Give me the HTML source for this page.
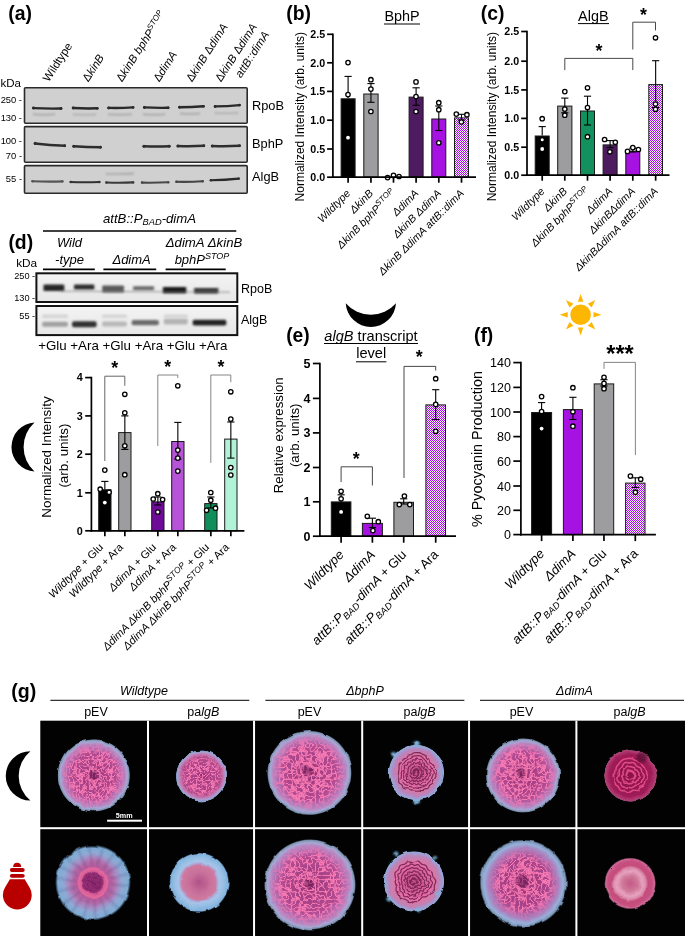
<!DOCTYPE html>
<html><head><meta charset="utf-8"><style>
html,body{margin:0;padding:0;background:#fff;}
body{width:685px;height:936px;overflow:hidden;}
svg{display:block;font-family:"Liberation Sans", Arial, sans-serif;}
</style></head><body>
<svg width="685" height="936" viewBox="0 0 685 936">
<defs>
<pattern id="chk" width="2" height="2" patternUnits="userSpaceOnUse"><rect width="2" height="2" fill="#fff4ff"/><rect width="1" height="1" fill="#a90ce8"/><rect x="1" y="1" width="1" height="1" fill="#a90ce8"/></pattern>
<filter id="blur1" x="-20%" y="-200%" width="140%" height="500%"><feGaussianBlur stdDeviation="0.8"/></filter>
<filter id="blur2" x="-20%" y="-200%" width="140%" height="500%"><feGaussianBlur stdDeviation="1.2"/></filter>
</defs><text x="8.20" y="20.00" font-size="19.4" font-weight="bold">(a)</text><text x="0.50" y="87.00" font-size="11.5">kDa</text><rect x="24.50" y="87.80" width="222.70" height="35.50" fill="#d0d0d0" stroke="#2a2a2a" stroke-width="1.6" rx="1"/><rect x="24.50" y="126.60" width="222.70" height="35.70" fill="#d0d0d0" stroke="#2a2a2a" stroke-width="1.6" rx="1"/><rect x="24.50" y="165.60" width="222.70" height="27.70" fill="#d0d0d0" stroke="#2a2a2a" stroke-width="1.6" rx="1"/><text x="22.00" y="102.70" font-size="9.4" text-anchor="end">250 -</text><text x="22.00" y="121.10" font-size="9.4" text-anchor="end">130 -</text><text x="22.00" y="143.60" font-size="9.4" text-anchor="end">100 -</text><text x="22.00" y="159.30" font-size="9.4" text-anchor="end">70 -</text><text x="22.00" y="181.80" font-size="9.4" text-anchor="end">55 -</text><text x="252.00" y="110.30" font-size="12.8">RpoB</text><text x="252.00" y="148.00" font-size="12.8">BphP</text><text x="252.00" y="181.30" font-size="12.8">AlgB</text><defs><filter id="blur05" x="-10%" y="-200%" width="120%" height="500%"><feGaussianBlur stdDeviation="0.65"/></filter></defs><g opacity="1" filter="url(#blur05)"><path d="M33.4,108.1 Q47.2,108.8 61.1,108.5" fill="none" stroke="#2a2a2a" stroke-width="2.4" stroke-linecap="round"/><circle cx="33.5" cy="108.1" r="1.49" fill="#2a2a2a"/><circle cx="61.0" cy="108.5" r="1.39" fill="#2a2a2a"/></g><g opacity="1" filter="url(#blur05)"><path d="M73.1,108.0 Q85.2,108.7 97.3,108.3" fill="none" stroke="#2a2a2a" stroke-width="2.4" stroke-linecap="round"/><circle cx="73.2" cy="108.0" r="1.49" fill="#2a2a2a"/><circle cx="97.2" cy="108.3" r="1.39" fill="#2a2a2a"/></g><g opacity="1" filter="url(#blur05)"><path d="M108.6,107.9 Q120.9,108.2 133.1,107.4" fill="none" stroke="#2a2a2a" stroke-width="2.4" stroke-linecap="round"/><circle cx="108.7" cy="107.9" r="1.49" fill="#2a2a2a"/><circle cx="133.0" cy="107.4" r="1.39" fill="#2a2a2a"/></g><g opacity="1" filter="url(#blur05)"><path d="M144.3,107.4 Q156.2,108.1 168.2,107.8" fill="none" stroke="#2a2a2a" stroke-width="2.4" stroke-linecap="round"/><circle cx="144.4" cy="107.4" r="1.49" fill="#2a2a2a"/><circle cx="168.1" cy="107.8" r="1.39" fill="#2a2a2a"/></g><g opacity="1" filter="url(#blur05)"><path d="M179.5,107.3 Q191.5,107.3 203.5,106.3" fill="none" stroke="#2a2a2a" stroke-width="2.4" stroke-linecap="round"/><circle cx="179.6" cy="107.3" r="1.49" fill="#2a2a2a"/><circle cx="203.4" cy="106.3" r="1.39" fill="#2a2a2a"/></g><g opacity="1" filter="url(#blur05)"><path d="M215.1,106.4 Q227.4,106.3 239.6,105.1" fill="none" stroke="#2a2a2a" stroke-width="2.4" stroke-linecap="round"/><circle cx="215.2" cy="106.4" r="1.49" fill="#2a2a2a"/><circle cx="239.5" cy="105.1" r="1.39" fill="#2a2a2a"/></g><g opacity="0.8" filter="url(#blur1)"><path d="M33.6,114.3 Q44.0,114.8 54.4,114.3" fill="none" stroke="#8c8c8c" stroke-width="1.2" stroke-linecap="round"/><circle cx="33.7" cy="114.3" r="0.74" fill="#8c8c8c"/><circle cx="54.3" cy="114.3" r="0.70" fill="#8c8c8c"/></g><g opacity="0.8" filter="url(#blur1)"><path d="M73.6,114.5 Q84.5,115.0 95.4,114.5" fill="none" stroke="#8c8c8c" stroke-width="1.2" stroke-linecap="round"/><circle cx="73.7" cy="114.5" r="0.74" fill="#8c8c8c"/><circle cx="95.3" cy="114.5" r="0.70" fill="#8c8c8c"/></g><g opacity="0.8" filter="url(#blur1)"><path d="M108.6,114.4 Q120.0,115.0 131.4,114.4" fill="none" stroke="#8c8c8c" stroke-width="1.2" stroke-linecap="round"/><circle cx="108.7" cy="114.4" r="0.74" fill="#8c8c8c"/><circle cx="131.3" cy="114.4" r="0.70" fill="#8c8c8c"/></g><g opacity="0.8" filter="url(#blur1)"><path d="M143.6,114.3 Q154.0,114.8 164.4,114.3" fill="none" stroke="#8c8c8c" stroke-width="1.2" stroke-linecap="round"/><circle cx="143.7" cy="114.3" r="0.74" fill="#8c8c8c"/><circle cx="164.3" cy="114.3" r="0.70" fill="#8c8c8c"/></g><g opacity="0.8" filter="url(#blur1)"><path d="M180.6,113.6 Q190.0,114.1 199.4,113.6" fill="none" stroke="#8c8c8c" stroke-width="1.2" stroke-linecap="round"/><circle cx="180.7" cy="113.6" r="0.74" fill="#8c8c8c"/><circle cx="199.3" cy="113.6" r="0.70" fill="#8c8c8c"/></g><g opacity="0.8" filter="url(#blur1)"><path d="M215.6,113.0 Q226.5,113.5 237.4,113.0" fill="none" stroke="#8c8c8c" stroke-width="1.2" stroke-linecap="round"/><circle cx="215.7" cy="113.0" r="0.74" fill="#8c8c8c"/><circle cx="237.3" cy="113.0" r="0.70" fill="#8c8c8c"/></g><g opacity="1" filter="url(#blur05)"><path d="M35.0,143.4 Q49.9,145.2 64.8,145.8" fill="none" stroke="#2e2e2e" stroke-width="2.5" stroke-linecap="round"/><circle cx="35.2" cy="143.4" r="1.55" fill="#2e2e2e"/><circle cx="64.6" cy="145.8" r="1.45" fill="#2e2e2e"/></g><g opacity="1" filter="url(#blur05)"><path d="M73.7,146.2 Q87.1,147.2 100.5,147.2" fill="none" stroke="#2e2e2e" stroke-width="2.5" stroke-linecap="round"/><circle cx="73.8" cy="146.2" r="1.55" fill="#2e2e2e"/><circle cx="100.4" cy="147.2" r="1.45" fill="#2e2e2e"/></g><g opacity="1" filter="url(#blur05)"><path d="M143.8,146.2 Q156.6,146.8 169.3,146.2" fill="none" stroke="#2e2e2e" stroke-width="2.5" stroke-linecap="round"/><circle cx="144.0" cy="146.2" r="1.55" fill="#2e2e2e"/><circle cx="169.2" cy="146.2" r="1.45" fill="#2e2e2e"/></g><g opacity="1" filter="url(#blur05)"><path d="M177.8,146.0 Q190.9,146.5 203.9,145.8" fill="none" stroke="#2e2e2e" stroke-width="2.5" stroke-linecap="round"/><circle cx="178.0" cy="146.0" r="1.55" fill="#2e2e2e"/><circle cx="203.8" cy="145.8" r="1.45" fill="#2e2e2e"/></g><g opacity="1" filter="url(#blur05)"><path d="M212.2,146.0 Q225.9,146.5 239.6,145.8" fill="none" stroke="#2e2e2e" stroke-width="2.5" stroke-linecap="round"/><circle cx="212.3" cy="146.0" r="1.55" fill="#2e2e2e"/><circle cx="239.4" cy="145.8" r="1.45" fill="#2e2e2e"/></g><g opacity="1" filter="url(#blur05)"><path d="M32.4,181.2 Q47.5,181.9 62.5,181.4" fill="none" stroke="#555" stroke-width="2.1" stroke-linecap="round"/><circle cx="32.6" cy="181.2" r="1.30" fill="#555"/><circle cx="62.3" cy="181.4" r="1.22" fill="#555"/></g><g opacity="1" filter="url(#blur05)"><path d="M70.6,182.0 Q85.0,182.6 99.5,182.0" fill="none" stroke="#333" stroke-width="2.1" stroke-linecap="round"/><circle cx="70.8" cy="182.0" r="1.30" fill="#333"/><circle cx="99.3" cy="182.0" r="1.22" fill="#333"/></g><g opacity="1" filter="url(#blur05)"><path d="M106.3,182.5 Q119.8,183.0 133.2,182.4" fill="none" stroke="#3a3a3a" stroke-width="2.1" stroke-linecap="round"/><circle cx="106.5" cy="182.5" r="1.30" fill="#3a3a3a"/><circle cx="133.1" cy="182.4" r="1.22" fill="#3a3a3a"/></g><g opacity="1" filter="url(#blur05)"><path d="M142.0,182.6 Q155.2,182.9 168.3,182.2" fill="none" stroke="#4a4a4a" stroke-width="2.1" stroke-linecap="round"/><circle cx="142.1" cy="182.6" r="1.30" fill="#4a4a4a"/><circle cx="168.2" cy="182.2" r="1.22" fill="#4a4a4a"/></g><g opacity="1" filter="url(#blur05)"><path d="M176.4,181.8 Q189.6,182.1 202.8,181.3" fill="none" stroke="#444" stroke-width="2.1" stroke-linecap="round"/><circle cx="176.5" cy="181.8" r="1.30" fill="#444"/><circle cx="202.6" cy="181.3" r="1.22" fill="#444"/></g><g opacity="1" filter="url(#blur05)"><path d="M210.8,180.3 Q224.8,180.0 238.8,178.6" fill="none" stroke="#2a2a2a" stroke-width="2.1" stroke-linecap="round"/><circle cx="210.9" cy="180.3" r="1.30" fill="#2a2a2a"/><circle cx="238.7" cy="178.6" r="1.22" fill="#2a2a2a"/></g><g opacity="0.8" filter="url(#blur1)"><path d="M106.8,173.8 Q120.0,174.2 133.2,173.6" fill="none" stroke="#9a9a9a" stroke-width="1.6" stroke-linecap="round"/><circle cx="106.9" cy="173.8" r="0.99" fill="#9a9a9a"/><circle cx="133.1" cy="173.6" r="0.93" fill="#9a9a9a"/></g><text x="48.80" y="82.50" font-size="11.4" transform="rotate(-57 48.80 82.50)">Wildtype</text><text x="88.30" y="82.50" font-size="11.4" transform="rotate(-57 88.30 82.50)">Δ<tspan font-style="italic">kinB</tspan></text><text x="121.90" y="82.50" font-size="11.4" transform="rotate(-57 121.90 82.50)">Δ<tspan font-style="italic">kinB bphP</tspan><tspan font-size="8" dy="-4" font-style="italic">STOP</tspan></text><text x="159.20" y="82.50" font-size="11.4" transform="rotate(-57 159.20 82.50)">Δ<tspan font-style="italic">dimA</tspan></text><text x="191.90" y="82.50" font-size="11.4" transform="rotate(-57 191.90 82.50)">Δ<tspan font-style="italic">kinB</tspan> Δ<tspan font-style="italic">dimA</tspan></text><text x="221.10" y="82.50" font-size="11.4" transform="rotate(-57 221.10 82.50)">Δ<tspan font-style="italic">kinB</tspan> Δ<tspan font-style="italic">dimA</tspan></text><text x="241.00" y="78.50" font-size="11.4" transform="rotate(-57 241.00 78.50)"><tspan font-style="italic">attB::dimA</tspan></text><text x="286.30" y="20.00" font-size="19.4" font-weight="bold">(b)</text><text x="402.00" y="21.30" font-size="14.4" text-anchor="middle">BphP</text><line x1="384.00" y1="24.00" x2="420.00" y2="24.00" stroke="#000" stroke-width="1"/><text x="303.80" y="116.70" font-size="12" text-anchor="middle" transform="rotate(-90 303.80 116.70)">Normalized Intensity (arb. units)</text><rect x="341.10" y="98.80" width="14.00" height="78.40" fill="#000" stroke="#1a1a1a" stroke-width="1"/><rect x="363.80" y="94.00" width="14.30" height="83.20" fill="#9d9d9f" stroke="#1a1a1a" stroke-width="1"/><rect x="409.10" y="97.10" width="14.00" height="80.10" fill="#4e1a60" stroke="#1a1a1a" stroke-width="1"/><rect x="431.80" y="119.00" width="14.00" height="58.20" fill="#a512e2" stroke="#1a1a1a" stroke-width="1"/><rect x="454.50" y="117.90" width="14.00" height="59.30" fill="url(#chk)" stroke="#1a1a1a" stroke-width="1"/><line x1="348.10" y1="76.40" x2="348.10" y2="98.30" stroke="#000" stroke-width="1.1"/><line x1="344.50" y1="76.40" x2="351.70" y2="76.40" stroke="#000" stroke-width="1.1"/><line x1="370.95" y1="83.60" x2="370.95" y2="102.30" stroke="#000" stroke-width="1.1"/><line x1="367.35" y1="83.60" x2="374.55" y2="83.60" stroke="#000" stroke-width="1.1"/><line x1="367.35" y1="102.30" x2="374.55" y2="102.30" stroke="#000" stroke-width="1.1"/><line x1="416.10" y1="87.80" x2="416.10" y2="105.30" stroke="#000" stroke-width="1.1"/><line x1="412.50" y1="87.80" x2="419.70" y2="87.80" stroke="#000" stroke-width="1.1"/><line x1="412.50" y1="105.30" x2="419.70" y2="105.30" stroke="#000" stroke-width="1.1"/><line x1="438.80" y1="106.00" x2="438.80" y2="130.50" stroke="#000" stroke-width="1.1"/><line x1="435.20" y1="106.00" x2="442.40" y2="106.00" stroke="#000" stroke-width="1.1"/><line x1="435.20" y1="130.50" x2="442.40" y2="130.50" stroke="#000" stroke-width="1.1"/><line x1="461.50" y1="114.30" x2="461.50" y2="120.00" stroke="#000" stroke-width="1.1"/><line x1="457.90" y1="114.30" x2="465.10" y2="114.30" stroke="#000" stroke-width="1.1"/><line x1="457.90" y1="120.00" x2="465.10" y2="120.00" stroke="#000" stroke-width="1.1"/><circle cx="348.00" cy="62.60" r="2.2" fill="#fff" stroke="#000" stroke-width="1.3"/><circle cx="348.00" cy="94.60" r="2.2" fill="#fff" stroke="#000" stroke-width="1.3"/><circle cx="348.00" cy="137.70" r="1.9" fill="#fff"/><circle cx="370.90" cy="79.70" r="2.2" fill="#fff" stroke="#000" stroke-width="1.3"/><circle cx="370.90" cy="89.10" r="2.2" fill="#fff" stroke="#000" stroke-width="1.3"/><circle cx="370.90" cy="111.50" r="2.2" fill="#fff" stroke="#000" stroke-width="1.3"/><circle cx="387.60" cy="177.60" r="2.2" fill="#fff" stroke="#000" stroke-width="1.3"/><circle cx="393.50" cy="175.40" r="2.2" fill="#fff" stroke="#000" stroke-width="1.3"/><circle cx="399.00" cy="176.50" r="2.2" fill="#fff" stroke="#000" stroke-width="1.3"/><circle cx="416.00" cy="81.90" r="2.2" fill="#fff" stroke="#000" stroke-width="1.3"/><circle cx="416.00" cy="96.60" r="2.2" fill="#fff" stroke="#000" stroke-width="1.3"/><circle cx="416.00" cy="111.50" r="2.2" fill="#fff" stroke="#000" stroke-width="1.3"/><circle cx="438.80" cy="102.70" r="2.2" fill="#fff" stroke="#000" stroke-width="1.3"/><circle cx="438.80" cy="109.70" r="2.2" fill="#fff" stroke="#000" stroke-width="1.3"/><circle cx="438.80" cy="142.80" r="2.2" fill="#fff" stroke="#000" stroke-width="1.3"/><circle cx="456.30" cy="114.10" r="2.2" fill="#fff" stroke="#000" stroke-width="1.3"/><circle cx="461.40" cy="122.00" r="2.2" fill="#fff" stroke="#000" stroke-width="1.3"/><circle cx="466.90" cy="114.70" r="2.2" fill="#fff" stroke="#000" stroke-width="1.3"/><line x1="332.90" y1="33.45" x2="332.90" y2="178.05" stroke="#000" stroke-width="1.7"/><line x1="332.05" y1="177.20" x2="476.00" y2="177.20" stroke="#000" stroke-width="1.7"/><line x1="327.10" y1="34.30" x2="332.90" y2="34.30" stroke="#000" stroke-width="1.7"/><text x="325.10" y="38.15" font-size="10.7" font-weight="bold" text-anchor="end">2.5</text><line x1="327.10" y1="62.80" x2="332.90" y2="62.80" stroke="#000" stroke-width="1.7"/><text x="325.10" y="66.65" font-size="10.7" font-weight="bold" text-anchor="end">2.0</text><line x1="327.10" y1="91.40" x2="332.90" y2="91.40" stroke="#000" stroke-width="1.7"/><text x="325.10" y="95.25" font-size="10.7" font-weight="bold" text-anchor="end">1.5</text><line x1="327.10" y1="120.20" x2="332.90" y2="120.20" stroke="#000" stroke-width="1.7"/><text x="325.10" y="124.05" font-size="10.7" font-weight="bold" text-anchor="end">1.0</text><line x1="327.10" y1="149.00" x2="332.90" y2="149.00" stroke="#000" stroke-width="1.7"/><text x="325.10" y="152.85" font-size="10.7" font-weight="bold" text-anchor="end">0.5</text><line x1="327.10" y1="177.20" x2="332.90" y2="177.20" stroke="#000" stroke-width="1.7"/><text x="325.10" y="181.05" font-size="10.7" font-weight="bold" text-anchor="end">0.0</text><line x1="348.10" y1="177.20" x2="348.10" y2="182.70" stroke="#000" stroke-width="1.7"/><line x1="370.95" y1="177.20" x2="370.95" y2="182.70" stroke="#000" stroke-width="1.7"/><line x1="393.50" y1="177.20" x2="393.50" y2="182.70" stroke="#000" stroke-width="1.7"/><line x1="416.10" y1="177.20" x2="416.10" y2="182.70" stroke="#000" stroke-width="1.7"/><line x1="438.80" y1="177.20" x2="438.80" y2="182.70" stroke="#000" stroke-width="1.7"/><line x1="461.50" y1="177.20" x2="461.50" y2="182.70" stroke="#000" stroke-width="1.7"/><text x="351.10" y="194.00" font-size="10.8" font-style="italic" text-anchor="end" transform="rotate(-45 351.10 194.00)">Wildtype</text><text x="373.95" y="194.00" font-size="10.8" font-style="italic" text-anchor="end" transform="rotate(-45 373.95 194.00)">Δ<tspan>kinB</tspan></text><text x="396.50" y="194.00" font-size="10.8" font-style="italic" text-anchor="end" transform="rotate(-45 396.50 194.00)">Δkin<tspan>B bphP</tspan><tspan font-size="8" dy="-4">STOP</tspan></text><text x="419.10" y="194.00" font-size="10.8" font-style="italic" text-anchor="end" transform="rotate(-45 419.10 194.00)">ΔdimA</text><text x="441.80" y="194.00" font-size="10.8" font-style="italic" text-anchor="end" transform="rotate(-45 441.80 194.00)">ΔkinB ΔdimA</text><text x="464.50" y="194.00" font-size="10.8" font-style="italic" text-anchor="end" transform="rotate(-45 464.50 194.00)">ΔkinB ΔdimA attB::dimA</text><text x="480.80" y="20.00" font-size="19.4" font-weight="bold">(c)</text><text x="593.30" y="21.30" font-size="14.4" text-anchor="middle">AlgB</text><line x1="578.00" y1="23.60" x2="609.00" y2="23.60" stroke="#000" stroke-width="1"/><text x="496.50" y="116.60" font-size="12" text-anchor="middle" transform="rotate(-90 496.50 116.60)">Normalized Intensity (arb. units)</text><rect x="535.20" y="136.00" width="14.00" height="39.20" fill="#000" stroke="#1a1a1a" stroke-width="1"/><rect x="557.70" y="106.10" width="14.20" height="69.10" fill="#9d9d9f" stroke="#1a1a1a" stroke-width="1"/><rect x="580.50" y="111.00" width="14.00" height="64.20" fill="#12915e" stroke="#1a1a1a" stroke-width="1"/><rect x="603.10" y="144.90" width="14.00" height="30.30" fill="#4e1a60" stroke="#1a1a1a" stroke-width="1"/><rect x="625.80" y="151.20" width="14.00" height="24.00" fill="#a512e2" stroke="#1a1a1a" stroke-width="1"/><rect x="648.80" y="84.60" width="13.70" height="90.60" fill="url(#chk)" stroke="#1a1a1a" stroke-width="1"/><line x1="542.20" y1="126.60" x2="542.20" y2="135.50" stroke="#000" stroke-width="1.1"/><line x1="538.60" y1="126.60" x2="545.80" y2="126.60" stroke="#000" stroke-width="1.1"/><line x1="564.80" y1="98.10" x2="564.80" y2="112.80" stroke="#000" stroke-width="1.1"/><line x1="561.20" y1="98.10" x2="568.40" y2="98.10" stroke="#000" stroke-width="1.1"/><line x1="561.20" y1="112.80" x2="568.40" y2="112.80" stroke="#000" stroke-width="1.1"/><line x1="587.50" y1="96.20" x2="587.50" y2="125.00" stroke="#000" stroke-width="1.1"/><line x1="583.90" y1="96.20" x2="591.10" y2="96.20" stroke="#000" stroke-width="1.1"/><line x1="583.90" y1="125.00" x2="591.10" y2="125.00" stroke="#000" stroke-width="1.1"/><line x1="610.10" y1="140.60" x2="610.10" y2="147.60" stroke="#000" stroke-width="1.1"/><line x1="606.50" y1="140.60" x2="613.70" y2="140.60" stroke="#000" stroke-width="1.1"/><line x1="606.50" y1="147.60" x2="613.70" y2="147.60" stroke="#000" stroke-width="1.1"/><line x1="632.80" y1="148.20" x2="632.80" y2="152.00" stroke="#000" stroke-width="1.1"/><line x1="629.20" y1="148.20" x2="636.40" y2="148.20" stroke="#000" stroke-width="1.1"/><line x1="629.20" y1="152.00" x2="636.40" y2="152.00" stroke="#000" stroke-width="1.1"/><line x1="655.65" y1="60.70" x2="655.65" y2="107.50" stroke="#000" stroke-width="1.1"/><line x1="652.05" y1="60.70" x2="659.25" y2="60.70" stroke="#000" stroke-width="1.1"/><line x1="652.05" y1="107.50" x2="659.25" y2="107.50" stroke="#000" stroke-width="1.1"/><circle cx="542.20" cy="118.70" r="2.2" fill="#fff" stroke="#000" stroke-width="1.3"/><circle cx="542.20" cy="139.70" r="2.2" fill="#fff" stroke="#000" stroke-width="1.3"/><circle cx="542.20" cy="149.00" r="1.9" fill="#fff"/><circle cx="564.80" cy="91.60" r="2.2" fill="#fff" stroke="#000" stroke-width="1.3"/><circle cx="564.80" cy="109.10" r="2.2" fill="#fff" stroke="#000" stroke-width="1.3"/><circle cx="564.80" cy="115.20" r="2.2" fill="#fff" stroke="#000" stroke-width="1.3"/><circle cx="587.50" cy="87.80" r="2.2" fill="#fff" stroke="#000" stroke-width="1.3"/><circle cx="587.50" cy="107.50" r="2.2" fill="#fff" stroke="#000" stroke-width="1.3"/><circle cx="587.50" cy="136.70" r="2.2" fill="#fff" stroke="#000" stroke-width="1.3"/><circle cx="604.60" cy="139.50" r="2.2" fill="#fff" stroke="#000" stroke-width="1.3"/><circle cx="609.90" cy="151.80" r="2.2" fill="#fff" stroke="#000" stroke-width="1.3"/><circle cx="615.30" cy="142.30" r="2.2" fill="#fff" stroke="#000" stroke-width="1.3"/><circle cx="627.50" cy="151.40" r="2.2" fill="#fff" stroke="#000" stroke-width="1.3"/><circle cx="632.80" cy="147.60" r="2.2" fill="#fff" stroke="#000" stroke-width="1.3"/><circle cx="638.40" cy="149.50" r="2.2" fill="#fff" stroke="#000" stroke-width="1.3"/><circle cx="655.50" cy="37.80" r="2.2" fill="#fff" stroke="#000" stroke-width="1.3"/><circle cx="655.50" cy="104.00" r="2.2" fill="#fff" stroke="#000" stroke-width="1.3"/><circle cx="655.50" cy="109.30" r="2.2" fill="#fff" stroke="#000" stroke-width="1.3"/><line x1="527.00" y1="30.65" x2="527.00" y2="176.05" stroke="#000" stroke-width="1.7"/><line x1="526.15" y1="175.20" x2="669.50" y2="175.20" stroke="#000" stroke-width="1.7"/><line x1="521.20" y1="31.50" x2="527.00" y2="31.50" stroke="#000" stroke-width="1.7"/><text x="519.20" y="35.35" font-size="10.7" font-weight="bold" text-anchor="end">2.5</text><line x1="521.20" y1="61.20" x2="527.00" y2="61.20" stroke="#000" stroke-width="1.7"/><text x="519.20" y="65.05" font-size="10.7" font-weight="bold" text-anchor="end">2.0</text><line x1="521.20" y1="89.90" x2="527.00" y2="89.90" stroke="#000" stroke-width="1.7"/><text x="519.20" y="93.75" font-size="10.7" font-weight="bold" text-anchor="end">1.5</text><line x1="521.20" y1="118.40" x2="527.00" y2="118.40" stroke="#000" stroke-width="1.7"/><text x="519.20" y="122.25" font-size="10.7" font-weight="bold" text-anchor="end">1.0</text><line x1="521.20" y1="147.20" x2="527.00" y2="147.20" stroke="#000" stroke-width="1.7"/><text x="519.20" y="151.05" font-size="10.7" font-weight="bold" text-anchor="end">0.5</text><line x1="521.20" y1="175.20" x2="527.00" y2="175.20" stroke="#000" stroke-width="1.7"/><text x="519.20" y="179.05" font-size="10.7" font-weight="bold" text-anchor="end">0.0</text><line x1="542.20" y1="175.20" x2="542.20" y2="180.70" stroke="#000" stroke-width="1.7"/><line x1="564.80" y1="175.20" x2="564.80" y2="180.70" stroke="#000" stroke-width="1.7"/><line x1="587.50" y1="175.20" x2="587.50" y2="180.70" stroke="#000" stroke-width="1.7"/><line x1="610.10" y1="175.20" x2="610.10" y2="180.70" stroke="#000" stroke-width="1.7"/><line x1="632.80" y1="175.20" x2="632.80" y2="180.70" stroke="#000" stroke-width="1.7"/><line x1="655.65" y1="175.20" x2="655.65" y2="180.70" stroke="#000" stroke-width="1.7"/><polyline points="564.80,70.10 564.80,58.40 632.80,58.40 632.80,70.10" fill="none" stroke="#333" stroke-width="0.9"/><text x="599.00" y="56.60" font-size="17.8" font-weight="bold" text-anchor="middle">*</text><polyline points="632.80,49.50 632.80,22.20 655.50,22.20 655.50,30.40" fill="none" stroke="#333" stroke-width="0.9"/><text x="643.50" y="21.30" font-size="17.8" font-weight="bold" text-anchor="middle">*</text><text x="545.20" y="192.00" font-size="10.8" font-style="italic" text-anchor="end" transform="rotate(-45 545.20 192.00)">Wildtype</text><text x="567.80" y="192.00" font-size="10.8" font-style="italic" text-anchor="end" transform="rotate(-45 567.80 192.00)">ΔkinB</text><text x="590.50" y="192.00" font-size="10.8" font-style="italic" text-anchor="end" transform="rotate(-45 590.50 192.00)">ΔkinB bphP<tspan font-size="8" dy="-4">STOP</tspan></text><text x="613.10" y="192.00" font-size="10.8" font-style="italic" text-anchor="end" transform="rotate(-45 613.10 192.00)">ΔdimA</text><text x="635.80" y="192.00" font-size="10.8" font-style="italic" text-anchor="end" transform="rotate(-45 635.80 192.00)">ΔkinBΔdimA</text><text x="658.65" y="192.00" font-size="10.8" font-style="italic" text-anchor="end" transform="rotate(-45 658.65 192.00)">ΔkinBΔdimA attB::dimA</text><text x="8.40" y="248.50" font-size="19.4" font-weight="bold">(d)</text><text x="149.50" y="222.50" font-size="13.2" font-style="italic" text-anchor="middle">attB::P<tspan font-size="9.3" dy="2.8">BAD</tspan><tspan dy="-2.8">-dimA</tspan></text><line x1="43.00" y1="231.00" x2="236.30" y2="231.00" stroke="#000" stroke-width="1.6"/><text x="69.50" y="247.20" font-size="13" font-style="italic" text-anchor="middle">Wild</text><text x="69.50" y="263.60" font-size="13" font-style="italic" text-anchor="middle">-type</text><line x1="43.00" y1="269.40" x2="94.80" y2="269.40" stroke="#000" stroke-width="1.8"/><text x="131.60" y="263.60" font-size="13" font-style="italic" text-anchor="middle">ΔdimA</text><line x1="103.40" y1="269.40" x2="156.20" y2="269.40" stroke="#000" stroke-width="1.8"/><text x="204.00" y="247.20" font-size="13.2" font-style="italic" text-anchor="middle">ΔdimA ΔkinB</text><text x="202.00" y="263.60" font-size="13" font-style="italic" text-anchor="middle">bphP<tspan font-size="9" dy="-4.8">STOP</tspan></text><line x1="165.60" y1="269.40" x2="225.70" y2="269.40" stroke="#000" stroke-width="1.8"/><text x="16.20" y="266.50" font-size="11.8">kDa</text><defs><linearGradient id="dbg" x1="0" y1="0" x2="0" y2="1"><stop offset="0" stop-color="#f4f4f4"/><stop offset="1" stop-color="#e6e6e6"/></linearGradient></defs><rect x="36.40" y="273.30" width="200.90" height="28.70" fill="url(#dbg)" stroke="#111" stroke-width="2"/><rect x="36.40" y="306.00" width="200.90" height="29.10" fill="url(#dbg)" stroke="#111" stroke-width="2"/><text x="35.20" y="279.30" font-size="9.2" text-anchor="end">250 -</text><text x="35.20" y="300.50" font-size="9.2" text-anchor="end">130 -</text><text x="35.20" y="318.70" font-size="9.2" text-anchor="end">55 -</text><text x="241.00" y="292.50" font-size="12.5">RpoB</text><text x="241.00" y="323.50" font-size="12.5">AlgB</text><defs><filter id="blurd" x="-20%" y="-100%" width="140%" height="300%"><feGaussianBlur stdDeviation="1.1"/></filter></defs><g filter="url(#blurd)"><rect x="43.3" y="284.6" width="21.2" height="3.3" rx="1.5" fill="#262626"/><rect x="43.3" y="287.6" width="21.2" height="3.3" rx="1.5" fill="#262626"/></g><g filter="url(#blurd)"><rect x="73.9" y="284.6" width="20.6" height="2.6" rx="1.5" fill="#2a2a2a"/><rect x="73.9" y="286.9" width="20.6" height="2.6" rx="1.5" fill="#2a2a2a"/></g><g filter="url(#blurd)"><rect x="102.0" y="285.6" width="22.2" height="3.6" rx="1.5" fill="#5a5a5a"/><rect x="102.0" y="288.9" width="22.2" height="3.6" rx="1.5" fill="#5a5a5a"/></g><g filter="url(#blurd)"><rect x="132.9" y="286.3" width="21.5" height="2.2" rx="1.5" fill="#6a6a6a"/><rect x="132.9" y="288.1" width="21.5" height="2.2" rx="1.5" fill="#6a6a6a"/></g><g filter="url(#blurd)"><rect x="162.6" y="287.1" width="23.9" height="3.2" rx="1.5" fill="#151515"/><rect x="162.6" y="290.1" width="23.9" height="3.2" rx="1.5" fill="#151515"/></g><g filter="url(#blurd)"><rect x="193.9" y="287.9" width="24.7" height="2.9" rx="1.5" fill="#303030"/><rect x="193.9" y="290.5" width="24.7" height="2.9" rx="1.5" fill="#303030"/></g><path d="M60 291.2 L230 292.2" stroke="#777" stroke-width="0.8" fill="none" filter="url(#blur1)"/><rect x="42" y="321.7" width="26.0" height="5" rx="2" fill="#a0a0a0" filter="url(#blurd)"/><rect x="72" y="321.2" width="24.6" height="6" rx="2" fill="#303030" filter="url(#blurd)"/><rect x="102" y="321.5" width="25.0" height="5" rx="2" fill="#b8b8b8" filter="url(#blurd)"/><rect x="131.6" y="319.9" width="27.3" height="5.4" rx="2" fill="#6a6a6a" filter="url(#blurd)"/><rect x="163.7" y="318.5" width="24.1" height="6" rx="2" fill="#b4b4b4" filter="url(#blurd)"/><rect x="192.6" y="319.8" width="33.8" height="5.6" rx="2" fill="#202020" filter="url(#blurd)"/><rect x="42" y="314.5" width="26.0" height="3.5" rx="1.5" fill="#d4d4d4" filter="url(#blurd)"/><rect x="102" y="314.5" width="25.0" height="3.5" rx="1.5" fill="#d4d4d4" filter="url(#blurd)"/><rect x="163.7" y="314.5" width="24.1" height="3.5" rx="1.5" fill="#d4d4d4" filter="url(#blurd)"/><text x="132.80" y="350.30" font-size="13.3" text-anchor="middle">+Glu +Ara +Glu +Ara +Glu +Ara</text><path d="M34.5 422.4 A24.6 24.6 0 0 0 34.5 471.5 A33.1 33.1 0 0 1 34.5 422.4 Z" fill="#000"/><text x="51.00" y="457.00" font-size="13.4" text-anchor="middle" transform="rotate(-90 51.00 457.00)">Normalized Intensity</text><text x="68.00" y="455.60" font-size="13.4" text-anchor="middle" transform="rotate(-90 68.00 455.60)">(arb. units)</text><rect x="98.70" y="489.70" width="12.30" height="41.10" fill="#000" stroke="#1a1a1a" stroke-width="1"/><rect x="118.70" y="432.60" width="12.30" height="98.20" fill="#9d9d9f" stroke="#1a1a1a" stroke-width="1"/><rect x="151.70" y="501.90" width="12.30" height="28.90" fill="#6e0b98" stroke="#1a1a1a" stroke-width="1"/><rect x="171.70" y="441.50" width="12.30" height="89.30" fill="#b653d8" stroke="#1a1a1a" stroke-width="1"/><rect x="204.70" y="503.60" width="12.30" height="27.20" fill="#118f5b" stroke="#1a1a1a" stroke-width="1"/><rect x="224.70" y="439.10" width="12.30" height="91.70" fill="#b2f2d8" stroke="#1a1a1a" stroke-width="1"/><line x1="104.85" y1="481.40" x2="104.85" y2="489.20" stroke="#000" stroke-width="1.1"/><line x1="101.25" y1="481.40" x2="108.45" y2="481.40" stroke="#000" stroke-width="1.1"/><line x1="124.85" y1="415.90" x2="124.85" y2="449.40" stroke="#000" stroke-width="1.1"/><line x1="121.25" y1="415.90" x2="128.45" y2="415.90" stroke="#000" stroke-width="1.1"/><line x1="121.25" y1="449.40" x2="128.45" y2="449.40" stroke="#000" stroke-width="1.1"/><line x1="157.85" y1="497.00" x2="157.85" y2="505.00" stroke="#000" stroke-width="1.1"/><line x1="154.25" y1="497.00" x2="161.45" y2="497.00" stroke="#000" stroke-width="1.1"/><line x1="154.25" y1="505.00" x2="161.45" y2="505.00" stroke="#000" stroke-width="1.1"/><line x1="177.85" y1="422.40" x2="177.85" y2="459.00" stroke="#000" stroke-width="1.1"/><line x1="174.25" y1="422.40" x2="181.45" y2="422.40" stroke="#000" stroke-width="1.1"/><line x1="174.25" y1="459.00" x2="181.45" y2="459.00" stroke="#000" stroke-width="1.1"/><line x1="210.85" y1="497.00" x2="210.85" y2="508.00" stroke="#000" stroke-width="1.1"/><line x1="207.25" y1="497.00" x2="214.45" y2="497.00" stroke="#000" stroke-width="1.1"/><line x1="207.25" y1="508.00" x2="214.45" y2="508.00" stroke="#000" stroke-width="1.1"/><line x1="230.85" y1="422.00" x2="230.85" y2="458.10" stroke="#000" stroke-width="1.1"/><line x1="227.25" y1="422.00" x2="234.45" y2="422.00" stroke="#000" stroke-width="1.1"/><line x1="227.25" y1="458.10" x2="234.45" y2="458.10" stroke="#000" stroke-width="1.1"/><circle cx="104.80" cy="470.10" r="2.2" fill="#fff" stroke="#000" stroke-width="1.3"/><circle cx="100.20" cy="489.20" r="2.2" fill="#fff" stroke="#000" stroke-width="1.3"/><circle cx="109.10" cy="492.30" r="2.2" fill="#fff" stroke="#000" stroke-width="1.3"/><circle cx="104.80" cy="502.60" r="1.9" fill="#fff"/><circle cx="124.80" cy="394.30" r="2.2" fill="#fff" stroke="#000" stroke-width="1.3"/><circle cx="124.80" cy="412.80" r="2.2" fill="#fff" stroke="#000" stroke-width="1.3"/><circle cx="124.80" cy="445.80" r="2.2" fill="#fff" stroke="#000" stroke-width="1.3"/><circle cx="124.80" cy="474.70" r="2.2" fill="#fff" stroke="#000" stroke-width="1.3"/><circle cx="157.80" cy="493.70" r="2.2" fill="#fff" stroke="#000" stroke-width="1.3"/><circle cx="153.20" cy="499.00" r="2.2" fill="#fff" stroke="#000" stroke-width="1.3"/><circle cx="162.60" cy="499.50" r="2.2" fill="#fff" stroke="#000" stroke-width="1.3"/><circle cx="157.80" cy="512.00" r="2.2" fill="#fff" stroke="#000" stroke-width="1.3"/><circle cx="177.80" cy="385.80" r="2.2" fill="#fff" stroke="#000" stroke-width="1.3"/><circle cx="177.80" cy="450.10" r="2.2" fill="#fff" stroke="#000" stroke-width="1.3"/><circle cx="177.80" cy="458.10" r="2.2" fill="#fff" stroke="#000" stroke-width="1.3"/><circle cx="177.80" cy="471.10" r="2.2" fill="#fff" stroke="#000" stroke-width="1.3"/><circle cx="210.80" cy="492.50" r="2.2" fill="#fff" stroke="#000" stroke-width="1.3"/><circle cx="210.80" cy="500.20" r="2.2" fill="#fff" stroke="#000" stroke-width="1.3"/><circle cx="206.60" cy="510.30" r="2.2" fill="#fff" stroke="#000" stroke-width="1.3"/><circle cx="215.50" cy="508.20" r="2.2" fill="#fff" stroke="#000" stroke-width="1.3"/><circle cx="230.80" cy="391.80" r="2.2" fill="#fff" stroke="#000" stroke-width="1.3"/><circle cx="230.80" cy="419.10" r="2.2" fill="#fff" stroke="#000" stroke-width="1.3"/><circle cx="230.80" cy="467.50" r="2.2" fill="#fff" stroke="#000" stroke-width="1.3"/><circle cx="230.80" cy="475.00" r="2.2" fill="#fff" stroke="#000" stroke-width="1.3"/><line x1="91.40" y1="376.75" x2="91.40" y2="531.65" stroke="#000" stroke-width="1.7"/><line x1="90.55" y1="530.80" x2="244.40" y2="530.80" stroke="#000" stroke-width="1.7"/><line x1="85.20" y1="377.60" x2="91.40" y2="377.60" stroke="#000" stroke-width="1.7"/><text x="82.80" y="381.49" font-size="10.8" font-weight="bold" text-anchor="end">4</text><line x1="85.20" y1="415.90" x2="91.40" y2="415.90" stroke="#000" stroke-width="1.7"/><text x="82.80" y="419.79" font-size="10.8" font-weight="bold" text-anchor="end">3</text><line x1="85.20" y1="454.20" x2="91.40" y2="454.20" stroke="#000" stroke-width="1.7"/><text x="82.80" y="458.09" font-size="10.8" font-weight="bold" text-anchor="end">2</text><line x1="85.20" y1="492.80" x2="91.40" y2="492.80" stroke="#000" stroke-width="1.7"/><text x="82.80" y="496.69" font-size="10.8" font-weight="bold" text-anchor="end">1</text><line x1="85.20" y1="530.80" x2="91.40" y2="530.80" stroke="#000" stroke-width="1.7"/><text x="82.80" y="534.69" font-size="10.8" font-weight="bold" text-anchor="end">0</text><line x1="104.85" y1="530.80" x2="104.85" y2="536.30" stroke="#000" stroke-width="1.7"/><line x1="124.85" y1="530.80" x2="124.85" y2="536.30" stroke="#000" stroke-width="1.7"/><line x1="157.85" y1="530.80" x2="157.85" y2="536.30" stroke="#000" stroke-width="1.7"/><line x1="177.85" y1="530.80" x2="177.85" y2="536.30" stroke="#000" stroke-width="1.7"/><line x1="210.85" y1="530.80" x2="210.85" y2="536.30" stroke="#000" stroke-width="1.7"/><line x1="230.85" y1="530.80" x2="230.85" y2="536.30" stroke="#000" stroke-width="1.7"/><polyline points="104.80,461.00 104.80,376.20 124.80,376.20 124.80,385.80" fill="none" stroke="#555" stroke-width="0.9"/><text x="114.60" y="374.30" font-size="17.8" font-weight="bold" text-anchor="middle">*</text><polyline points="157.80,446.00 157.80,375.00 177.80,375.00 177.80,377.90" fill="none" stroke="#777" stroke-width="0.9"/><text x="167.60" y="373.10" font-size="17.8" font-weight="bold" text-anchor="middle">*</text><polyline points="210.80,462.90 210.80,375.00 230.80,375.00 230.80,382.20" fill="none" stroke="#777" stroke-width="0.9"/><text x="221.00" y="373.10" font-size="17.8" font-weight="bold" text-anchor="middle">*</text><text x="103.85" y="548.00" font-size="11" font-style="italic" text-anchor="end" transform="rotate(-45 103.85 548.00)">Wildtype<tspan font-style="normal"> + Glu</tspan></text><text x="123.85" y="548.00" font-size="11" font-style="italic" text-anchor="end" transform="rotate(-45 123.85 548.00)">Wildtype<tspan font-style="normal"> + Ara</tspan></text><text x="156.85" y="548.00" font-size="11" font-style="italic" text-anchor="end" transform="rotate(-45 156.85 548.00)">ΔdimA<tspan font-style="normal"> + Glu</tspan></text><text x="176.85" y="548.00" font-size="11" font-style="italic" text-anchor="end" transform="rotate(-45 176.85 548.00)">ΔdimA<tspan font-style="normal"> + Ara</tspan></text><text x="209.85" y="548.00" font-size="11" font-style="italic" text-anchor="end" transform="rotate(-45 209.85 548.00)">ΔdimA ΔkinB bphP<tspan font-size="8.6" dy="-4.5">STOP</tspan><tspan dy="4.5" font-style="normal"> + Glu</tspan></text><text x="229.85" y="548.00" font-size="11" font-style="italic" text-anchor="end" transform="rotate(-45 229.85 548.00)">ΔdimA ΔkinB bphP<tspan font-size="8.6" dy="-4.5">STOP</tspan><tspan dy="4.5" font-style="normal"> + Ara</tspan></text><path d="M345.7 303.3 A25.2 25.2 0 0 0 396 303.3 A33.4 33.4 0 0 1 345.7 303.3 Z" fill="#000"/><text x="286.20" y="341.70" font-size="19.3" font-weight="bold">(e)</text><text x="371.00" y="341.30" font-size="14.6" text-anchor="middle"><tspan font-style="italic">algB</tspan> transcript</text><line x1="324.00" y1="343.50" x2="418.00" y2="343.50" stroke="#000" stroke-width="1"/><text x="371.20" y="358.30" font-size="14.6" text-anchor="middle">level</text><line x1="356.00" y1="361.80" x2="386.40" y2="361.80" stroke="#000" stroke-width="1"/><text x="283.00" y="435.30" font-size="13.3" text-anchor="middle" transform="rotate(-90 283.00 435.30)">Relative expression</text><text x="299.00" y="435.30" font-size="13.3" text-anchor="middle" transform="rotate(-90 299.00 435.30)">(arb. units)</text><rect x="331.30" y="501.90" width="19.60" height="34.30" fill="#000" stroke="#1a1a1a" stroke-width="1"/><rect x="362.40" y="523.40" width="20.00" height="12.80" fill="#a512e2" stroke="#1a1a1a" stroke-width="1"/><rect x="393.90" y="502.30" width="19.60" height="33.90" fill="#9d9d9f" stroke="#1a1a1a" stroke-width="1"/><rect x="425.90" y="404.90" width="19.60" height="131.30" fill="url(#chk)" stroke="#1a1a1a" stroke-width="1"/><line x1="341.10" y1="494.80" x2="341.10" y2="501.40" stroke="#000" stroke-width="1.1"/><line x1="337.50" y1="494.80" x2="344.70" y2="494.80" stroke="#000" stroke-width="1.1"/><line x1="372.40" y1="518.20" x2="372.40" y2="527.50" stroke="#000" stroke-width="1.1"/><line x1="368.80" y1="518.20" x2="376.00" y2="518.20" stroke="#000" stroke-width="1.1"/><line x1="368.80" y1="527.50" x2="376.00" y2="527.50" stroke="#000" stroke-width="1.1"/><line x1="403.70" y1="498.80" x2="403.70" y2="504.00" stroke="#000" stroke-width="1.1"/><line x1="400.10" y1="498.80" x2="407.30" y2="498.80" stroke="#000" stroke-width="1.1"/><line x1="400.10" y1="504.00" x2="407.30" y2="504.00" stroke="#000" stroke-width="1.1"/><line x1="435.70" y1="389.70" x2="435.70" y2="419.60" stroke="#000" stroke-width="1.1"/><line x1="432.10" y1="389.70" x2="439.30" y2="389.70" stroke="#000" stroke-width="1.1"/><line x1="432.10" y1="419.60" x2="439.30" y2="419.60" stroke="#000" stroke-width="1.1"/><circle cx="341.10" cy="491.30" r="2.2" fill="#fff" stroke="#000" stroke-width="1.3"/><circle cx="341.10" cy="498.80" r="2.2" fill="#fff" stroke="#000" stroke-width="1.3"/><circle cx="341.10" cy="511.90" r="1.9" fill="#fff"/><circle cx="367.30" cy="516.30" r="2.2" fill="#fff" stroke="#000" stroke-width="1.3"/><circle cx="378.30" cy="521.70" r="2.2" fill="#fff" stroke="#000" stroke-width="1.3"/><circle cx="372.90" cy="530.60" r="2.2" fill="#fff" stroke="#000" stroke-width="1.3"/><circle cx="404.40" cy="496.00" r="2.2" fill="#fff" stroke="#000" stroke-width="1.3"/><circle cx="399.30" cy="504.60" r="2.2" fill="#fff" stroke="#000" stroke-width="1.3"/><circle cx="409.80" cy="504.60" r="2.2" fill="#fff" stroke="#000" stroke-width="1.3"/><circle cx="435.70" cy="378.70" r="2.2" fill="#fff" stroke="#000" stroke-width="1.3"/><circle cx="435.70" cy="404.40" r="2.2" fill="#fff" stroke="#000" stroke-width="1.3"/><circle cx="435.70" cy="431.30" r="2.2" fill="#fff" stroke="#000" stroke-width="1.3"/><line x1="319.90" y1="362.65" x2="319.90" y2="537.05" stroke="#000" stroke-width="1.7"/><line x1="319.05" y1="536.20" x2="456.00" y2="536.20" stroke="#000" stroke-width="1.7"/><line x1="312.90" y1="363.50" x2="319.90" y2="363.50" stroke="#000" stroke-width="1.7"/><text x="310.50" y="368.00" font-size="12.5" font-weight="bold" text-anchor="end">5</text><line x1="312.90" y1="398.40" x2="319.90" y2="398.40" stroke="#000" stroke-width="1.7"/><text x="310.50" y="402.90" font-size="12.5" font-weight="bold" text-anchor="end">4</text><line x1="312.90" y1="432.90" x2="319.90" y2="432.90" stroke="#000" stroke-width="1.7"/><text x="310.50" y="437.40" font-size="12.5" font-weight="bold" text-anchor="end">3</text><line x1="312.90" y1="467.50" x2="319.90" y2="467.50" stroke="#000" stroke-width="1.7"/><text x="310.50" y="472.00" font-size="12.5" font-weight="bold" text-anchor="end">2</text><line x1="312.90" y1="501.80" x2="319.90" y2="501.80" stroke="#000" stroke-width="1.7"/><text x="310.50" y="506.30" font-size="12.5" font-weight="bold" text-anchor="end">1</text><line x1="312.90" y1="536.20" x2="319.90" y2="536.20" stroke="#000" stroke-width="1.7"/><text x="310.50" y="540.70" font-size="12.5" font-weight="bold" text-anchor="end">0</text><line x1="341.10" y1="536.20" x2="341.10" y2="542.70" stroke="#000" stroke-width="1.7"/><line x1="372.40" y1="536.20" x2="372.40" y2="542.70" stroke="#000" stroke-width="1.7"/><line x1="403.70" y1="536.20" x2="403.70" y2="542.70" stroke="#000" stroke-width="1.7"/><line x1="435.70" y1="536.20" x2="435.70" y2="542.70" stroke="#000" stroke-width="1.7"/><polyline points="341.10,482.00 341.10,466.80 372.40,466.80 372.40,485.50" fill="none" stroke="#333" stroke-width="0.9"/><text x="356.10" y="464.80" font-size="17.8" font-weight="bold" text-anchor="middle">*</text><polyline points="404.00,478.00 404.00,366.40 435.70,366.40 435.70,370.60" fill="none" stroke="#333" stroke-width="0.9"/><text x="419.10" y="363.20" font-size="17.8" font-weight="bold" text-anchor="middle">*</text><text x="344.60" y="555.50" font-size="13" font-style="italic" text-anchor="end" transform="rotate(-45 344.60 555.50)">Wildtype</text><text x="375.90" y="555.50" font-size="13" font-style="italic" text-anchor="end" transform="rotate(-45 375.90 555.50)">ΔdimA</text><text x="407.20" y="555.50" font-size="13" font-style="italic" text-anchor="end" transform="rotate(-45 407.20 555.50)">attB::P<tspan font-size="9.5" dy="3">BAD</tspan><tspan dy="-3">-dimA</tspan><tspan font-style="normal"> + Glu</tspan></text><text x="439.20" y="555.50" font-size="13" font-style="italic" text-anchor="end" transform="rotate(-45 439.20 555.50)">attB::P<tspan font-size="9.5" dy="3">BAD</tspan><tspan dy="-3">-dimA</tspan><tspan font-style="normal"> + Ara</tspan></text><g fill="#fdb702"><circle cx="580.6" cy="314.7" r="10.3"/><polygon points="580.60,293.90 583.35,301.80 577.85,301.80"/><polygon points="595.31,299.99 591.67,307.52 587.78,303.63"/><polygon points="601.40,314.70 593.50,317.45 593.50,311.95"/><polygon points="595.31,329.41 587.78,325.77 591.67,321.88"/><polygon points="580.60,335.50 577.85,327.60 583.35,327.60"/><polygon points="565.89,329.41 569.53,321.88 573.42,325.77"/><polygon points="559.80,314.70 567.70,311.95 567.70,317.45"/><polygon points="565.89,299.99 573.42,303.63 569.53,307.52"/></g><text x="474.00" y="341.70" font-size="19.3" font-weight="bold">(f)</text><text x="482.00" y="449.10" font-size="14.4" text-anchor="middle" transform="rotate(-90 482.00 449.10)">% Pyocyanin Production</text><rect x="531.60" y="412.50" width="20.00" height="122.10" fill="#000" stroke="#1a1a1a" stroke-width="1"/><rect x="563.40" y="409.60" width="19.00" height="125.00" fill="#a512e2" stroke="#1a1a1a" stroke-width="1"/><rect x="594.20" y="383.90" width="19.50" height="150.70" fill="#9d9d9f" stroke="#1a1a1a" stroke-width="1"/><rect x="625.60" y="483.10" width="19.40" height="51.50" fill="url(#chk)" stroke="#1a1a1a" stroke-width="1"/><line x1="541.60" y1="402.60" x2="541.60" y2="412.00" stroke="#000" stroke-width="1.1"/><line x1="538.00" y1="402.60" x2="545.20" y2="402.60" stroke="#000" stroke-width="1.1"/><line x1="572.90" y1="397.30" x2="572.90" y2="419.50" stroke="#000" stroke-width="1.1"/><line x1="569.30" y1="397.30" x2="576.50" y2="397.30" stroke="#000" stroke-width="1.1"/><line x1="569.30" y1="419.50" x2="576.50" y2="419.50" stroke="#000" stroke-width="1.1"/><line x1="603.95" y1="379.70" x2="603.95" y2="386.00" stroke="#000" stroke-width="1.1"/><line x1="600.35" y1="379.70" x2="607.55" y2="379.70" stroke="#000" stroke-width="1.1"/><line x1="600.35" y1="386.00" x2="607.55" y2="386.00" stroke="#000" stroke-width="1.1"/><line x1="635.30" y1="477.80" x2="635.30" y2="487.40" stroke="#000" stroke-width="1.1"/><line x1="631.70" y1="477.80" x2="638.90" y2="477.80" stroke="#000" stroke-width="1.1"/><line x1="631.70" y1="487.40" x2="638.90" y2="487.40" stroke="#000" stroke-width="1.1"/><circle cx="541.60" cy="396.60" r="2.2" fill="#fff" stroke="#000" stroke-width="1.3"/><circle cx="541.60" cy="411.50" r="2.2" fill="#fff" stroke="#000" stroke-width="1.3"/><circle cx="541.60" cy="428.60" r="1.9" fill="#fff"/><circle cx="572.90" cy="387.70" r="2.2" fill="#fff" stroke="#000" stroke-width="1.3"/><circle cx="572.90" cy="411.80" r="2.2" fill="#fff" stroke="#000" stroke-width="1.3"/><circle cx="572.90" cy="426.20" r="2.2" fill="#fff" stroke="#000" stroke-width="1.3"/><circle cx="604.00" cy="377.30" r="2.2" fill="#fff" stroke="#000" stroke-width="1.3"/><circle cx="604.00" cy="383.40" r="2.2" fill="#fff" stroke="#000" stroke-width="1.3"/><circle cx="604.00" cy="388.70" r="2.2" fill="#fff" stroke="#000" stroke-width="1.3"/><circle cx="630.40" cy="476.10" r="2.2" fill="#fff" stroke="#000" stroke-width="1.3"/><circle cx="640.70" cy="479.20" r="2.2" fill="#fff" stroke="#000" stroke-width="1.3"/><circle cx="635.40" cy="492.20" r="2.2" fill="#fff" stroke="#000" stroke-width="1.3"/><line x1="520.90" y1="361.75" x2="520.90" y2="535.45" stroke="#000" stroke-width="1.7"/><line x1="520.05" y1="534.60" x2="655.90" y2="534.60" stroke="#000" stroke-width="1.7"/><line x1="513.30" y1="362.60" x2="520.90" y2="362.60" stroke="#000" stroke-width="1.7"/><text x="510.90" y="367.10" font-size="12.5" text-anchor="end">140</text><line x1="513.30" y1="387.40" x2="520.90" y2="387.40" stroke="#000" stroke-width="1.7"/><text x="510.90" y="391.90" font-size="12.5" text-anchor="end">120</text><line x1="513.30" y1="412.00" x2="520.90" y2="412.00" stroke="#000" stroke-width="1.7"/><text x="510.90" y="416.50" font-size="12.5" text-anchor="end">100</text><line x1="513.30" y1="436.60" x2="520.90" y2="436.60" stroke="#000" stroke-width="1.7"/><text x="510.90" y="441.10" font-size="12.5" text-anchor="end">80</text><line x1="513.30" y1="461.10" x2="520.90" y2="461.10" stroke="#000" stroke-width="1.7"/><text x="510.90" y="465.60" font-size="12.5" text-anchor="end">60</text><line x1="513.30" y1="486.00" x2="520.90" y2="486.00" stroke="#000" stroke-width="1.7"/><text x="510.90" y="490.50" font-size="12.5" text-anchor="end">40</text><line x1="513.30" y1="510.30" x2="520.90" y2="510.30" stroke="#000" stroke-width="1.7"/><text x="510.90" y="514.80" font-size="12.5" text-anchor="end">20</text><line x1="513.30" y1="534.60" x2="520.90" y2="534.60" stroke="#000" stroke-width="1.7"/><text x="510.90" y="539.10" font-size="12.5" text-anchor="end">0</text><line x1="541.60" y1="534.60" x2="541.60" y2="541.10" stroke="#000" stroke-width="1.7"/><line x1="572.90" y1="534.60" x2="572.90" y2="541.10" stroke="#000" stroke-width="1.7"/><line x1="603.95" y1="534.60" x2="603.95" y2="541.10" stroke="#000" stroke-width="1.7"/><line x1="635.30" y1="534.60" x2="635.30" y2="541.10" stroke="#000" stroke-width="1.7"/><polyline points="604.00,368.90 604.00,362.40 635.40,362.40 635.40,455.10" fill="none" stroke="#777" stroke-width="0.9"/><text x="620.00" y="362.00" font-size="23.5" font-weight="bold" text-anchor="middle">***</text><text x="545.10" y="554.50" font-size="13" font-style="italic" text-anchor="end" transform="rotate(-45 545.10 554.50)">Wildtype</text><text x="576.40" y="554.50" font-size="13" font-style="italic" text-anchor="end" transform="rotate(-45 576.40 554.50)">ΔdimA</text><text x="607.45" y="554.50" font-size="13" font-style="italic" text-anchor="end" transform="rotate(-45 607.45 554.50)">attB::P<tspan font-size="9.5" dy="3">BAD</tspan><tspan dy="-3">-dimA</tspan><tspan font-style="normal"> + Glu</tspan></text><text x="638.80" y="554.50" font-size="13" font-style="italic" text-anchor="end" transform="rotate(-45 638.80 554.50)">attB::P<tspan font-size="9.5" dy="3">BAD</tspan><tspan dy="-3">-dimA</tspan><tspan font-style="normal"> + Ara</tspan></text><text x="11.30" y="697.80" font-size="19.6" font-weight="bold">(g)</text><text x="144.00" y="695.20" font-size="12.5" font-style="italic" text-anchor="middle">Wildtype</text><line x1="50.40" y1="700.30" x2="249.30" y2="700.30" stroke="#000" stroke-width="1"/><text x="365.00" y="695.20" font-size="12.5" font-style="italic" text-anchor="middle">ΔbphP</text><line x1="265.40" y1="700.30" x2="464.40" y2="700.30" stroke="#000" stroke-width="1"/><text x="574.50" y="695.20" font-size="12.5" font-style="italic" text-anchor="middle">ΔdimA</text><line x1="480.00" y1="700.30" x2="684.00" y2="700.30" stroke="#000" stroke-width="1"/><text x="96.00" y="716.30" font-size="12.5" text-anchor="middle">pEV</text><text x="203.30" y="716.30" font-size="12.5" text-anchor="middle">pa<tspan font-style="italic">lgB</tspan></text><text x="309.50" y="716.30" font-size="12.5" text-anchor="middle">pEV</text><text x="419.50" y="716.30" font-size="12.5" text-anchor="middle">pa<tspan font-style="italic">lgB</tspan></text><text x="521.50" y="716.30" font-size="12.5" text-anchor="middle">pEV</text><text x="629.50" y="716.30" font-size="12.5" text-anchor="middle">pa<tspan font-style="italic">lgB</tspan></text><rect x="40.30" y="720.70" width="644.70" height="215.30" fill="#020202"/><rect x="147.00" y="720.70" width="2.00" height="215.30" fill="#fff"/><rect x="253.05" y="720.70" width="2.00" height="215.30" fill="#fff"/><rect x="361.20" y="720.70" width="2.00" height="215.30" fill="#fff"/><rect x="468.05" y="720.70" width="2.00" height="215.30" fill="#fff"/><rect x="575.40" y="720.70" width="2.00" height="215.30" fill="#fff"/><rect x="40.00" y="827.20" width="645.00" height="2.00" fill="#fff"/><defs><filter id="cblur" x="-50%" y="-50%" width="200%" height="200%"><feGaussianBlur stdDeviation="0.9"/></filter><radialGradient id="wfade" cx="0.5" cy="0.5" r="0.5"><stop offset="0" stop-color="#000"/><stop offset="0.7" stop-color="#000"/><stop offset="1" stop-color="#000" stop-opacity="0"/></radialGradient><radialGradient id="g11" cx="0.5" cy="0.5" r="0.5"><stop offset="0" stop-color="#7a2060" stop-opacity="1"/><stop offset="0.15" stop-color="#a03c80" stop-opacity="1"/><stop offset="0.62" stop-color="#b24c92" stop-opacity="1"/><stop offset="0.74" stop-color="#b868ac" stop-opacity="1"/><stop offset="0.85" stop-color="#b484c0" stop-opacity="1"/><stop offset="0.92" stop-color="#a6a8d4" stop-opacity="1"/><stop offset="0.97" stop-color="#9cb6dc" stop-opacity="0.8"/><stop offset="1" stop-color="#90b0d8" stop-opacity="0"/></radialGradient><filter id="edge1" x="-20%" y="-20%" width="140%" height="140%" color-interpolation-filters="sRGB"><feTurbulence type="fractalNoise" baseFrequency="0.09" numOctaves="2" seed="7" result="n"/><feDisplacementMap in="SourceGraphic" in2="n" scale="3.5" xChannelSelector="R" yChannelSelector="G" result="d"/><feGaussianBlur in="d" stdDeviation="0.6"/></filter><filter id="w11" x="0" y="0" width="1" height="1" color-interpolation-filters="sRGB"><feTurbulence type="fractalNoise" baseFrequency="0.3" numOctaves="1" seed="3" result="t"/><feColorMatrix in="t" type="matrix" values="0 0 0 0 1.0  0 0 0 0 0.5  0 0 0 0 0.72  1 0 0 0 0" result="c"/><feComponentTransfer in="c" result="d"><feFuncA type="table" tableValues="0 0 0 0 0 0 0 0 0 0 0.5 1 1 0.5 0 0 0 0 0 0 0 0 0 0"/></feComponentTransfer><feGaussianBlur in="d" stdDeviation="0.35" result="e"/><feComposite in="e" in2="SourceGraphic" operator="in"/></filter><radialGradient id="g12" cx="0.5" cy="0.5" r="0.5"><stop offset="0" stop-color="#8a2a6a" stop-opacity="1"/><stop offset="0.2" stop-color="#a83e84" stop-opacity="1"/><stop offset="0.75" stop-color="#b04c8c" stop-opacity="1"/><stop offset="0.85" stop-color="#c07cb4" stop-opacity="1"/><stop offset="0.93" stop-color="#a8a0d0" stop-opacity="1"/><stop offset="0.98" stop-color="#88aad8" stop-opacity="0.9"/><stop offset="1" stop-color="#7fb0da" stop-opacity="0"/></radialGradient><filter id="edge2" x="-20%" y="-20%" width="140%" height="140%" color-interpolation-filters="sRGB"><feTurbulence type="fractalNoise" baseFrequency="0.09" numOctaves="2" seed="14" result="n"/><feDisplacementMap in="SourceGraphic" in2="n" scale="3.5" xChannelSelector="R" yChannelSelector="G" result="d"/><feGaussianBlur in="d" stdDeviation="0.6"/></filter><filter id="w12" x="0" y="0" width="1" height="1" color-interpolation-filters="sRGB"><feTurbulence type="fractalNoise" baseFrequency="0.32" numOctaves="1" seed="7" result="t"/><feColorMatrix in="t" type="matrix" values="0 0 0 0 1.0  0 0 0 0 0.5  0 0 0 0 0.72  1 0 0 0 0" result="c"/><feComponentTransfer in="c" result="d"><feFuncA type="table" tableValues="0 0 0 0 0 0 0 0 0 0 0.5 1 1 0.5 0 0 0 0 0 0 0 0 0 0"/></feComponentTransfer><feGaussianBlur in="d" stdDeviation="0.35" result="e"/><feComposite in="e" in2="SourceGraphic" operator="in"/></filter><radialGradient id="g13" cx="0.5" cy="0.5" r="0.5"><stop offset="0" stop-color="#7a2060" stop-opacity="1"/><stop offset="0.15" stop-color="#a03c80" stop-opacity="1"/><stop offset="0.62" stop-color="#b24c92" stop-opacity="1"/><stop offset="0.74" stop-color="#b868ac" stop-opacity="1"/><stop offset="0.85" stop-color="#b484c0" stop-opacity="1"/><stop offset="0.92" stop-color="#a6a8d4" stop-opacity="1"/><stop offset="0.97" stop-color="#9cb6dc" stop-opacity="0.8"/><stop offset="1" stop-color="#90b0d8" stop-opacity="0"/></radialGradient><filter id="edge3" x="-20%" y="-20%" width="140%" height="140%" color-interpolation-filters="sRGB"><feTurbulence type="fractalNoise" baseFrequency="0.09" numOctaves="2" seed="21" result="n"/><feDisplacementMap in="SourceGraphic" in2="n" scale="3.5" xChannelSelector="R" yChannelSelector="G" result="d"/><feGaussianBlur in="d" stdDeviation="0.6"/></filter><filter id="w13" x="0" y="0" width="1" height="1" color-interpolation-filters="sRGB"><feTurbulence type="fractalNoise" baseFrequency="0.25" numOctaves="1" seed="11" result="t"/><feColorMatrix in="t" type="matrix" values="0 0 0 0 1.0  0 0 0 0 0.5  0 0 0 0 0.72  1 0 0 0 0" result="c"/><feComponentTransfer in="c" result="d"><feFuncA type="table" tableValues="0 0 0 0 0 0 0 0 0 0 0.5 1 1 0.5 0 0 0 0 0 0 0 0 0 0"/></feComponentTransfer><feGaussianBlur in="d" stdDeviation="0.35" result="e"/><feComposite in="e" in2="SourceGraphic" operator="in"/></filter><radialGradient id="g14" cx="0.5" cy="0.5" r="0.5"><stop offset="0" stop-color="#c24c88" stop-opacity="1"/><stop offset="0.55" stop-color="#e46ea8" stop-opacity="1"/><stop offset="0.7" stop-color="#d47aa8" stop-opacity="1"/><stop offset="0.82" stop-color="#b884bc" stop-opacity="1"/><stop offset="0.92" stop-color="#a49cd0" stop-opacity="1"/><stop offset="0.97" stop-color="#88aad8" stop-opacity="1"/><stop offset="1" stop-color="#7fb0da" stop-opacity="0"/></radialGradient><filter id="edge4" x="-20%" y="-20%" width="140%" height="140%" color-interpolation-filters="sRGB"><feTurbulence type="fractalNoise" baseFrequency="0.09" numOctaves="2" seed="28" result="n"/><feDisplacementMap in="SourceGraphic" in2="n" scale="3.5" xChannelSelector="R" yChannelSelector="G" result="d"/><feGaussianBlur in="d" stdDeviation="0.6"/></filter><radialGradient id="g15" cx="0.5" cy="0.5" r="0.5"><stop offset="0" stop-color="#7a2060" stop-opacity="1"/><stop offset="0.15" stop-color="#a03c80" stop-opacity="1"/><stop offset="0.62" stop-color="#b24c92" stop-opacity="1"/><stop offset="0.74" stop-color="#b868ac" stop-opacity="1"/><stop offset="0.85" stop-color="#b484c0" stop-opacity="1"/><stop offset="0.92" stop-color="#a6a8d4" stop-opacity="1"/><stop offset="0.97" stop-color="#9cb6dc" stop-opacity="0.8"/><stop offset="1" stop-color="#90b0d8" stop-opacity="0"/></radialGradient><filter id="edge5" x="-20%" y="-20%" width="140%" height="140%" color-interpolation-filters="sRGB"><feTurbulence type="fractalNoise" baseFrequency="0.09" numOctaves="2" seed="35" result="n"/><feDisplacementMap in="SourceGraphic" in2="n" scale="3.5" xChannelSelector="R" yChannelSelector="G" result="d"/><feGaussianBlur in="d" stdDeviation="0.6"/></filter><filter id="w15" x="0" y="0" width="1" height="1" color-interpolation-filters="sRGB"><feTurbulence type="fractalNoise" baseFrequency="0.26" numOctaves="1" seed="17" result="t"/><feColorMatrix in="t" type="matrix" values="0 0 0 0 1.0  0 0 0 0 0.5  0 0 0 0 0.72  1 0 0 0 0" result="c"/><feComponentTransfer in="c" result="d"><feFuncA type="table" tableValues="0 0 0 0 0 0 0 0 0 0 0.5 1 1 0.5 0 0 0 0 0 0 0 0 0 0"/></feComponentTransfer><feGaussianBlur in="d" stdDeviation="0.35" result="e"/><feComposite in="e" in2="SourceGraphic" operator="in"/></filter><radialGradient id="g16" cx="0.5" cy="0.5" r="0.5"><stop offset="0" stop-color="#8a1248" stop-opacity="1"/><stop offset="0.5" stop-color="#961650" stop-opacity="1"/><stop offset="0.8" stop-color="#a01c58" stop-opacity="1"/><stop offset="0.93" stop-color="#b03a70" stop-opacity="1"/><stop offset="0.98" stop-color="#a04878" stop-opacity="1"/><stop offset="1" stop-color="#b04070" stop-opacity="0"/></radialGradient><filter id="edge6" x="-20%" y="-20%" width="140%" height="140%" color-interpolation-filters="sRGB"><feTurbulence type="fractalNoise" baseFrequency="0.09" numOctaves="2" seed="42" result="n"/><feDisplacementMap in="SourceGraphic" in2="n" scale="3.5" xChannelSelector="R" yChannelSelector="G" result="d"/><feGaussianBlur in="d" stdDeviation="0.6"/></filter><filter id="w21" x="0" y="0" width="1" height="1" color-interpolation-filters="sRGB"><feTurbulence type="fractalNoise" baseFrequency="0.35" numOctaves="1" seed="41" result="t"/><feColorMatrix in="t" type="matrix" values="0 0 0 0 0.45  0 0 0 0 0.1  0 0 0 0 0.35  1 0 0 0 0" result="c"/><feComponentTransfer in="c" result="d"><feFuncA type="table" tableValues="0 0 0 0 0 0 0 0 0 0 0.5 1 1 0.5 0 0 0 0 0 0 0 0 0 0"/></feComponentTransfer><feGaussianBlur in="d" stdDeviation="0.35" result="e"/><feComposite in="e" in2="SourceGraphic" operator="in"/></filter><radialGradient id="g21" cx="0.5" cy="0.5" r="0.5"><stop offset="0" stop-color="#8a2a70" stop-opacity="1"/><stop offset="0.26" stop-color="#962f76" stop-opacity="1"/><stop offset="0.3" stop-color="#d85c96" stop-opacity="1"/><stop offset="0.38" stop-color="#e26a9e" stop-opacity="1"/><stop offset="0.42" stop-color="#b85c9e" stop-opacity="1"/><stop offset="0.55" stop-color="#b46ca8" stop-opacity="1"/><stop offset="0.66" stop-color="#a88cc4" stop-opacity="1"/><stop offset="0.78" stop-color="#8eaad4" stop-opacity="1"/><stop offset="0.93" stop-color="#80acd4" stop-opacity="1"/><stop offset="1" stop-color="#6aa0cc" stop-opacity="0"/></radialGradient><filter id="edge7" x="-20%" y="-20%" width="140%" height="140%" color-interpolation-filters="sRGB"><feTurbulence type="fractalNoise" baseFrequency="0.09" numOctaves="2" seed="49" result="n"/><feDisplacementMap in="SourceGraphic" in2="n" scale="3.5" xChannelSelector="R" yChannelSelector="G" result="d"/><feGaussianBlur in="d" stdDeviation="0.6"/></filter><radialGradient id="g22" cx="0.5" cy="0.5" r="0.5"><stop offset="0" stop-color="#b05088" stop-opacity="1"/><stop offset="0.35" stop-color="#c8709a" stop-opacity="1"/><stop offset="0.58" stop-color="#d07aa0" stop-opacity="1"/><stop offset="0.63" stop-color="#b0a0d0" stop-opacity="1"/><stop offset="0.7" stop-color="#a8c4e8" stop-opacity="1"/><stop offset="0.85" stop-color="#90bce2" stop-opacity="1"/><stop offset="0.95" stop-color="#80b0dc" stop-opacity="1"/><stop offset="1" stop-color="#6aa0d0" stop-opacity="0"/></radialGradient><filter id="edge8" x="-20%" y="-20%" width="140%" height="140%" color-interpolation-filters="sRGB"><feTurbulence type="fractalNoise" baseFrequency="0.09" numOctaves="2" seed="56" result="n"/><feDisplacementMap in="SourceGraphic" in2="n" scale="3.5" xChannelSelector="R" yChannelSelector="G" result="d"/><feGaussianBlur in="d" stdDeviation="0.6"/></filter><radialGradient id="g23" cx="0.5" cy="0.5" r="0.5"><stop offset="0" stop-color="#7a2060" stop-opacity="1"/><stop offset="0.15" stop-color="#a03c80" stop-opacity="1"/><stop offset="0.62" stop-color="#b24c92" stop-opacity="1"/><stop offset="0.74" stop-color="#b868ac" stop-opacity="1"/><stop offset="0.85" stop-color="#b484c0" stop-opacity="1"/><stop offset="0.92" stop-color="#a6a8d4" stop-opacity="1"/><stop offset="0.97" stop-color="#9cb6dc" stop-opacity="0.8"/><stop offset="1" stop-color="#90b0d8" stop-opacity="0"/></radialGradient><filter id="edge9" x="-20%" y="-20%" width="140%" height="140%" color-interpolation-filters="sRGB"><feTurbulence type="fractalNoise" baseFrequency="0.09" numOctaves="2" seed="63" result="n"/><feDisplacementMap in="SourceGraphic" in2="n" scale="3.5" xChannelSelector="R" yChannelSelector="G" result="d"/><feGaussianBlur in="d" stdDeviation="0.6"/></filter><filter id="w23" x="0" y="0" width="1" height="1" color-interpolation-filters="sRGB"><feTurbulence type="fractalNoise" baseFrequency="0.25" numOctaves="1" seed="23" result="t"/><feColorMatrix in="t" type="matrix" values="0 0 0 0 1.0  0 0 0 0 0.5  0 0 0 0 0.72  1 0 0 0 0" result="c"/><feComponentTransfer in="c" result="d"><feFuncA type="table" tableValues="0 0 0 0 0 0 0 0 0 0 0.5 1 1 0.5 0 0 0 0 0 0 0 0 0 0"/></feComponentTransfer><feGaussianBlur in="d" stdDeviation="0.35" result="e"/><feComposite in="e" in2="SourceGraphic" operator="in"/></filter><radialGradient id="g24" cx="0.5" cy="0.5" r="0.5"><stop offset="0" stop-color="#c24c88" stop-opacity="1"/><stop offset="0.6" stop-color="#e46ea8" stop-opacity="1"/><stop offset="0.72" stop-color="#d47aa8" stop-opacity="1"/><stop offset="0.84" stop-color="#bc84b8" stop-opacity="1"/><stop offset="0.93" stop-color="#a49cd0" stop-opacity="1"/><stop offset="0.97" stop-color="#88aad8" stop-opacity="1"/><stop offset="1" stop-color="#7fb0da" stop-opacity="0"/></radialGradient><filter id="edge10" x="-20%" y="-20%" width="140%" height="140%" color-interpolation-filters="sRGB"><feTurbulence type="fractalNoise" baseFrequency="0.09" numOctaves="2" seed="70" result="n"/><feDisplacementMap in="SourceGraphic" in2="n" scale="3.5" xChannelSelector="R" yChannelSelector="G" result="d"/><feGaussianBlur in="d" stdDeviation="0.6"/></filter><radialGradient id="g25" cx="0.5" cy="0.5" r="0.5"><stop offset="0" stop-color="#8a2a6a" stop-opacity="1"/><stop offset="0.2" stop-color="#a23c80" stop-opacity="1"/><stop offset="0.55" stop-color="#a8448a" stop-opacity="1"/><stop offset="0.68" stop-color="#b062a6" stop-opacity="1"/><stop offset="0.8" stop-color="#a884c0" stop-opacity="1"/><stop offset="0.9" stop-color="#98b0d8" stop-opacity="1"/><stop offset="0.96" stop-color="#90b0d8" stop-opacity="0.85"/><stop offset="1" stop-color="#88a8d0" stop-opacity="0"/></radialGradient><filter id="edge11" x="-20%" y="-20%" width="140%" height="140%" color-interpolation-filters="sRGB"><feTurbulence type="fractalNoise" baseFrequency="0.09" numOctaves="2" seed="77" result="n"/><feDisplacementMap in="SourceGraphic" in2="n" scale="3.5" xChannelSelector="R" yChannelSelector="G" result="d"/><feGaussianBlur in="d" stdDeviation="0.6"/></filter><filter id="w25" x="0" y="0" width="1" height="1" color-interpolation-filters="sRGB"><feTurbulence type="fractalNoise" baseFrequency="0.26" numOctaves="1" seed="29" result="t"/><feColorMatrix in="t" type="matrix" values="0 0 0 0 1.0  0 0 0 0 0.5  0 0 0 0 0.72  1 0 0 0 0" result="c"/><feComponentTransfer in="c" result="d"><feFuncA type="table" tableValues="0 0 0 0 0 0 0 0 0 0 0.5 1 1 0.5 0 0 0 0 0 0 0 0 0 0"/></feComponentTransfer><feGaussianBlur in="d" stdDeviation="0.35" result="e"/><feComposite in="e" in2="SourceGraphic" operator="in"/></filter><radialGradient id="g26" cx="0.5" cy="0.5" r="0.5"><stop offset="0" stop-color="#c45a88" stop-opacity="1"/><stop offset="0.3" stop-color="#d07898" stop-opacity="1"/><stop offset="0.5" stop-color="#e6a2c0" stop-opacity="1"/><stop offset="0.6" stop-color="#dc8aac" stop-opacity="1"/><stop offset="0.7" stop-color="#c44c7a" stop-opacity="1"/><stop offset="0.85" stop-color="#c85080" stop-opacity="1"/><stop offset="0.94" stop-color="#cc6a98" stop-opacity="1"/><stop offset="1" stop-color="#c06090" stop-opacity="0"/></radialGradient><filter id="edge12" x="-20%" y="-20%" width="140%" height="140%" color-interpolation-filters="sRGB"><feTurbulence type="fractalNoise" baseFrequency="0.09" numOctaves="2" seed="84" result="n"/><feDisplacementMap in="SourceGraphic" in2="n" scale="3.5" xChannelSelector="R" yChannelSelector="G" result="d"/><feGaussianBlur in="d" stdDeviation="0.6"/></filter></defs><g filter="url(#edge1)"><circle cx="93.8" cy="775.4" r="36.5" fill="url(#g11)"/><circle cx="93.8" cy="775.4" r="34" fill="url(#wfade)" filter="url(#w11)" opacity="0.9"/><circle cx="93.8" cy="775.4" r="4.5" fill="#6a1a55" opacity="0.55" filter="url(#cblur)"/><path d="M100.73,775.40 L100.61,775.64 L100.44,775.86 L100.26,776.08 L100.11,776.29 L100.01,776.50 L99.97,776.71 L99.95,776.93 L99.93,777.16 L99.89,777.38 L99.81,777.59 L99.68,777.77 L99.50,777.94 L99.31,778.09 L99.12,778.23 L98.95,778.38 L98.82,778.54 L98.72,778.72 L98.63,778.91 L98.53,779.09 L98.40,779.26 L98.23,779.39 L98.03,779.48 L97.80,779.54 L97.57,779.59 L97.36,779.64 L97.19,779.74 L97.07,779.90 L96.98,780.11 L96.90,780.36 L96.81,780.62 L96.69,780.83 L96.52,780.97 L96.30,781.01 L96.04,780.95 L95.77,780.80 L95.50,780.63 L95.26,780.49 L95.05,780.43 L94.88,780.48 L94.73,780.65 L94.57,780.91 L94.41,781.21 L94.22,781.47 L94.02,781.63 L93.80,781.65 L93.59,781.52 L93.39,781.27 L93.22,780.96 L93.06,780.66 L92.91,780.45 L92.74,780.39 L92.53,780.49 L92.27,780.72 L91.97,781.03 L91.64,781.34 L91.30,781.58 L91.00,781.68 L90.77,781.61 L90.61,781.39 L90.52,781.07 L90.48,780.72 L90.43,780.40 L90.34,780.17 L90.16,780.06 L89.89,780.06 L89.53,780.15 L89.12,780.24 L88.72,780.30 L88.40,780.27 L88.18,780.11 L88.11,779.85 L88.17,779.49 L88.32,779.10 L88.50,778.71 L88.66,778.37 L88.74,778.09 L88.70,777.89 L88.56,777.73 L88.34,777.61 L88.10,777.47 L87.90,777.32 L87.79,777.12 L87.79,776.90 L87.91,776.65 L88.12,776.40 L88.36,776.16 L88.58,775.95 L88.72,775.75 L88.78,775.58 L88.73,775.40 L88.62,775.22 L88.47,775.03 L88.32,774.82 L88.23,774.62 L88.20,774.41 L88.23,774.22 L88.30,774.03 L88.40,773.85 L88.48,773.67 L88.53,773.48 L88.55,773.28 L88.54,773.06 L88.52,772.83 L88.52,772.59 L88.56,772.38 L88.65,772.18 L88.77,772.01 L88.92,771.86 L89.07,771.71 L89.21,771.55 L89.31,771.36 L89.39,771.15 L89.46,770.91 L89.54,770.67 L89.65,770.45 L89.81,770.29 L90.01,770.19 L90.27,770.16 L90.54,770.18 L90.81,770.22 L91.06,770.24 L91.26,770.19 L91.42,770.05 L91.55,769.82 L91.66,769.53 L91.79,769.22 L91.95,768.95 L92.15,768.78 L92.38,768.74 L92.64,768.83 L92.90,769.03 L93.16,769.27 L93.39,769.50 L93.60,769.64 L93.80,769.65 L94.00,769.53 L94.23,769.30 L94.47,769.03 L94.73,768.78 L94.99,768.64 L95.23,768.65 L95.43,768.84 L95.58,769.18 L95.68,769.62 L95.74,770.07 L95.80,770.45 L95.89,770.72 L96.03,770.83 L96.25,770.80 L96.52,770.68 L96.84,770.54 L97.14,770.45 L97.39,770.46 L97.55,770.60 L97.60,770.87 L97.56,771.23 L97.46,771.61 L97.36,771.97 L97.31,772.24 L97.38,772.40 L97.56,772.46 L97.87,772.44 L98.27,772.39 L98.68,772.35 L99.05,772.37 L99.33,772.46 L99.49,772.63 L99.52,772.85 L99.47,773.11 L99.38,773.37 L99.31,773.61 L99.32,773.82 L99.44,773.99 L99.65,774.16 L99.94,774.32 L100.24,774.49 L100.51,774.69 L100.70,774.92 L100.77,775.16 L100.73,775.40Z" fill="none" stroke="#f274ac" stroke-width="1.3" opacity="0.85"/></g><g filter="url(#edge2)"><circle cx="201.6" cy="776" r="25.8" fill="url(#g12)"/><circle cx="201.6" cy="776" r="23" fill="url(#wfade)" filter="url(#w12)" opacity="0.9"/></g><g filter="url(#edge3)"><circle cx="309.4" cy="772.9" r="42.5" fill="url(#g13)"/><circle cx="309.4" cy="772.9" r="40" fill="url(#wfade)" filter="url(#w13)" opacity="0.9"/><circle cx="307" cy="771" r="5" fill="#6a1a55" opacity="0.55" filter="url(#cblur)"/><path d="M313.51,771.00 L313.34,771.22 L313.30,771.44 L313.36,771.67 L313.48,771.91 L313.60,772.16 L313.64,772.41 L313.59,772.64 L313.44,772.85 L313.21,773.02 L312.98,773.17 L312.77,773.33 L312.62,773.50 L312.55,773.71 L312.52,773.94 L312.51,774.18 L312.48,774.42 L312.39,774.64 L312.26,774.82 L312.07,774.96 L311.87,775.08 L311.66,775.19 L311.47,775.31 L311.29,775.45 L311.13,775.59 L310.98,775.74 L310.81,775.88 L310.63,775.99 L310.43,776.09 L310.23,776.16 L310.03,776.24 L309.83,776.33 L309.65,776.44 L309.47,776.55 L309.29,776.67 L309.10,776.76 L308.89,776.81 L308.67,776.84 L308.46,776.85 L308.25,776.87 L308.05,776.93 L307.85,777.05 L307.65,777.23 L307.45,777.44 L307.23,777.64 L307.00,777.79 L306.76,777.86 L306.52,777.84 L306.29,777.75 L306.07,777.64 L305.84,777.57 L305.60,777.57 L305.34,777.66 L305.05,777.81 L304.73,777.98 L304.42,778.10 L304.13,778.10 L303.90,777.96 L303.73,777.70 L303.62,777.36 L303.53,777.00 L303.43,776.71 L303.27,776.52 L303.04,776.45 L302.75,776.44 L302.43,776.44 L302.15,776.38 L301.97,776.21 L301.92,775.91 L301.99,775.51 L302.16,775.06 L302.32,774.65 L302.41,774.33 L302.36,774.13 L302.15,774.03 L301.83,773.99 L301.46,773.94 L301.16,773.85 L301.02,773.66 L301.06,773.40 L301.27,773.09 L301.56,772.77 L301.82,772.49 L301.93,772.26 L301.83,772.10 L301.51,771.97 L301.06,771.83 L300.59,771.67 L300.23,771.47 L300.09,771.24 L300.20,771.00 L300.51,770.77 L300.90,770.57 L301.24,770.40 L301.41,770.21 L301.34,770.00 L301.06,769.74 L300.65,769.42 L300.27,769.07 L300.05,768.74 L300.06,768.48 L300.33,768.31 L300.79,768.23 L301.30,768.22 L301.73,768.20 L301.97,768.10 L301.99,767.87 L301.82,767.51 L301.56,767.05 L301.34,766.58 L301.27,766.19 L301.41,765.97 L301.75,765.93 L302.21,766.04 L302.69,766.22 L303.09,766.34 L303.33,766.30 L303.40,766.05 L303.36,765.60 L303.28,765.05 L303.26,764.52 L303.36,764.15 L303.59,764.01 L303.94,764.13 L304.35,764.44 L304.74,764.80 L305.08,765.08 L305.32,765.15 L305.50,764.98 L305.64,764.60 L305.79,764.14 L305.98,763.74 L306.22,763.55 L306.48,763.63 L306.75,763.97 L307.00,764.49 L307.21,765.03 L307.39,765.44 L307.56,765.63 L307.76,765.57 L308.00,765.31 L308.28,764.98 L308.56,764.73 L308.82,764.65 L309.01,764.82 L309.12,765.19 L309.15,765.67 L309.17,766.13 L309.22,766.45 L309.36,766.57 L309.62,766.47 L309.98,766.23 L310.40,765.95 L310.81,765.75 L311.13,765.71 L311.32,765.85 L311.38,766.14 L311.35,766.49 L311.32,766.83 L311.37,767.06 L311.56,767.17 L311.90,767.17 L312.35,767.11 L312.84,767.06 L313.26,767.09 L313.54,767.22 L313.65,767.47 L313.59,767.79 L313.44,768.13 L313.29,768.46 L313.22,768.73 L313.30,768.95 L313.50,769.13 L313.80,769.31 L314.09,769.49 L314.30,769.71 L314.36,769.97 L314.27,770.24 L314.04,770.51 L313.76,770.76 L313.51,771.00Z" fill="none" stroke="#f274ac" stroke-width="1.3" opacity="0.85"/><path d="M317.90,771.00 L318.09,771.39 L318.19,771.78 L318.15,772.17 L317.97,772.54 L317.68,772.88 L317.32,773.19 L316.98,773.49 L316.71,773.78 L316.54,774.10 L316.48,774.45 L316.49,774.84 L316.54,775.25 L316.56,775.66 L316.51,776.06 L316.38,776.41 L316.17,776.73 L315.90,777.00 L315.62,777.26 L315.34,777.52 L315.10,777.79 L314.88,778.10 L314.67,778.41 L314.45,778.71 L314.18,778.97 L313.86,779.18 L313.50,779.32 L313.11,779.40 L312.72,779.48 L312.36,779.58 L312.06,779.76 L311.81,780.05 L311.60,780.43 L311.40,780.88 L311.18,781.34 L310.91,781.75 L310.59,782.05 L310.22,782.21 L309.80,782.24 L309.38,782.17 L308.95,782.07 L308.55,781.99 L308.16,782.01 L307.78,782.13 L307.40,782.36 L307.00,782.66 L306.58,782.96 L306.15,783.20 L305.70,783.33 L305.27,783.33 L304.85,783.22 L304.45,783.01 L304.07,782.77 L303.70,782.52 L303.33,782.29 L302.96,782.09 L302.60,781.90 L302.24,781.68 L301.92,781.41 L301.65,781.07 L301.42,780.66 L301.24,780.22 L301.07,779.79 L300.90,779.40 L300.69,779.08 L300.42,778.84 L300.10,778.66 L299.75,778.50 L299.41,778.33 L299.12,778.10 L298.92,777.78 L298.82,777.39 L298.81,776.95 L298.86,776.49 L298.90,776.06 L298.88,775.69 L298.74,775.39 L298.47,775.16 L298.09,774.97 L297.64,774.78 L297.18,774.58 L296.77,774.32 L296.46,774.02 L296.27,773.68 L296.18,773.30 L296.16,772.91 L296.16,772.52 L296.14,772.14 L296.07,771.76 L295.96,771.39 L295.82,771.00 L295.71,770.61 L295.64,770.21 L295.65,769.81 L295.73,769.42 L295.86,769.04 L296.00,768.66 L296.12,768.29 L296.18,767.90 L296.18,767.48 L296.14,767.05 L296.11,766.60 L296.14,766.17 L296.27,765.77 L296.52,765.43 L296.87,765.15 L297.31,764.94 L297.76,764.77 L298.17,764.58 L298.50,764.36 L298.72,764.05 L298.85,763.66 L298.92,763.20 L298.99,762.71 L299.11,762.23 L299.31,761.83 L299.60,761.53 L299.99,761.35 L300.43,761.26 L300.90,761.24 L301.36,761.22 L301.78,761.19 L302.17,761.10 L302.53,760.96 L302.87,760.79 L303.23,760.63 L303.60,760.52 L303.98,760.48 L304.39,760.51 L304.79,760.59 L305.18,760.69 L305.56,760.75 L305.92,760.77 L306.28,760.73 L306.64,760.66 L307.00,760.59 L307.36,760.57 L307.72,760.64 L308.07,760.82 L308.39,761.09 L308.69,761.40 L308.98,761.69 L309.27,761.90 L309.58,761.99 L309.95,761.93 L310.36,761.76 L310.83,761.52 L311.33,761.28 L311.82,761.12 L312.28,761.07 L312.68,761.16 L313.02,761.36 L313.31,761.64 L313.57,761.95 L313.85,762.23 L314.16,762.46 L314.54,762.63 L314.96,762.76 L315.41,762.88 L315.86,763.02 L316.26,763.23 L316.60,763.50 L316.87,763.83 L317.08,764.20 L317.25,764.60 L317.42,764.99 L317.60,765.36 L317.80,765.73 L318.01,766.10 L318.18,766.48 L318.29,766.89 L318.29,767.33 L318.19,767.79 L318.00,768.26 L317.76,768.71 L317.54,769.14 L317.40,769.54 L317.38,769.91 L317.47,770.27 L317.67,770.63 L317.90,771.00Z" fill="none" stroke="#f274ac" stroke-width="1.3" opacity="0.85"/></g><g filter="url(#edge4)"><circle cx="416.4" cy="772.5" r="28" fill="url(#g14)"/><circle cx="394.5" cy="754.5" r="2.6" fill="#7fb4dc" filter="url(#cblur)"/><circle cx="416.5" cy="743.5" r="3.2" fill="#7fb4dc" filter="url(#cblur)"/><circle cx="417" cy="801" r="2.8" fill="#7fb4dc" filter="url(#cblur)"/><circle cx="439" cy="770" r="2" fill="#7fb4dc" filter="url(#cblur)"/><path d="M420.12,772.50 L420.13,772.63 L420.01,772.75 L419.78,772.86 L419.53,772.94 L419.31,773.01 L419.18,773.09 L419.16,773.19 L419.24,773.32 L419.38,773.47 L419.50,773.63 L419.58,773.78 L419.57,773.91 L419.46,773.99 L419.28,774.03 L419.07,774.04 L418.87,774.04 L418.72,774.07 L418.64,774.13 L418.62,774.24 L418.64,774.38 L418.67,774.54 L418.68,774.70 L418.65,774.82 L418.57,774.90 L418.45,774.94 L418.31,774.95 L418.17,774.94 L418.05,774.95 L417.95,774.98 L417.87,775.04 L417.79,775.12 L417.72,775.20 L417.64,775.27 L417.54,775.32 L417.43,775.33 L417.31,775.32 L417.20,775.29 L417.09,775.27 L416.99,775.26 L416.89,775.27 L416.79,775.28 L416.69,775.28 L416.59,775.27 L416.50,775.22 L416.40,775.16 L416.31,775.09 L416.22,775.03 L416.14,775.01 L416.04,775.04 L415.94,775.10 L415.83,775.19 L415.71,775.27 L415.59,775.32 L415.49,775.31 L415.40,775.25 L415.33,775.15 L415.27,775.05 L415.20,774.97 L415.10,774.94 L414.97,774.98 L414.79,775.07 L414.59,775.19 L414.37,775.29 L414.18,775.35 L414.04,775.32 L413.96,775.20 L413.96,775.02 L414.00,774.81 L414.05,774.62 L414.06,774.46 L414.00,774.38 L413.85,774.35 L413.63,774.37 L413.39,774.38 L413.18,774.36 L413.06,774.27 L413.07,774.12 L413.21,773.92 L413.43,773.70 L413.69,773.48 L413.91,773.31 L414.01,773.18 L413.97,773.10 L413.80,773.05 L413.54,773.00 L413.28,772.94 L413.10,772.85 L413.06,772.73 L413.18,772.61 L413.45,772.50 L413.78,772.41 L414.09,772.34 L414.29,772.28 L414.31,772.21 L414.16,772.11 L413.88,771.96 L413.54,771.79 L413.26,771.60 L413.10,771.43 L413.13,771.31 L413.34,771.26 L413.67,771.28 L414.03,771.34 L414.32,771.39 L414.47,771.39 L414.45,771.28 L414.29,771.07 L414.04,770.78 L413.80,770.47 L413.65,770.19 L413.65,770.03 L413.81,770.00 L414.10,770.12 L414.45,770.33 L414.77,770.56 L415.00,770.71 L415.11,770.72 L415.09,770.56 L414.99,770.24 L414.86,769.83 L414.78,769.44 L414.78,769.17 L414.88,769.08 L415.06,769.18 L415.29,769.45 L415.51,769.78 L415.70,770.06 L415.83,770.19 L415.90,770.12 L415.93,769.85 L415.97,769.44 L416.03,768.99 L416.13,768.62 L416.26,768.44 L416.40,768.48 L416.53,768.73 L416.64,769.12 L416.71,769.52 L416.78,769.83 L416.85,769.96 L416.96,769.89 L417.11,769.65 L417.31,769.33 L417.52,769.04 L417.72,768.88 L417.85,768.92 L417.89,769.15 L417.85,769.54 L417.74,769.98 L417.63,770.38 L417.56,770.65 L417.58,770.75 L417.71,770.69 L417.95,770.52 L418.22,770.33 L418.48,770.19 L418.66,770.16 L418.71,770.27 L418.62,770.50 L418.44,770.79 L418.23,771.07 L418.07,771.29 L418.02,771.41 L418.13,771.42 L418.39,771.35 L418.74,771.26 L419.11,771.18 L419.40,771.16 L419.57,771.22 L419.57,771.34 L419.45,771.51 L419.25,771.68 L419.05,771.84 L418.94,771.96 L418.96,772.05 L419.13,772.12 L419.39,772.19 L419.70,772.27 L419.97,772.38 L420.12,772.50Z" fill="none" stroke="#74204e" stroke-width="1.2" opacity="0.9"/><path d="M422.52,772.50 L422.59,772.72 L422.80,772.95 L423.10,773.20 L423.39,773.48 L423.58,773.77 L423.60,774.03 L423.42,774.25 L423.08,774.42 L422.65,774.53 L422.22,774.62 L421.88,774.72 L421.70,774.86 L421.69,775.08 L421.80,775.37 L421.97,775.71 L422.10,776.06 L422.12,776.36 L422.00,776.57 L421.73,776.66 L421.35,776.66 L420.95,776.60 L420.59,776.55 L420.34,776.58 L420.20,776.72 L420.17,777.00 L420.20,777.37 L420.23,777.77 L420.19,778.13 L420.06,778.36 L419.83,778.44 L419.51,778.36 L419.16,778.16 L418.82,777.93 L418.52,777.75 L418.29,777.68 L418.11,777.77 L417.97,777.98 L417.84,778.26 L417.68,778.54 L417.50,778.72 L417.28,778.75 L417.04,778.61 L416.81,778.34 L416.59,778.01 L416.40,777.70 L416.23,777.50 L416.05,777.44 L415.87,777.54 L415.66,777.76 L415.43,778.02 L415.18,778.25 L414.93,778.39 L414.71,778.39 L414.52,778.27 L414.37,778.08 L414.23,777.86 L414.09,777.70 L413.90,777.63 L413.65,777.67 L413.34,777.79 L412.99,777.96 L412.61,778.12 L412.26,778.20 L411.96,778.19 L411.74,778.06 L411.59,777.84 L411.50,777.57 L411.43,777.30 L411.34,777.06 L411.20,776.86 L411.01,776.71 L410.78,776.58 L410.54,776.46 L410.32,776.30 L410.17,776.10 L410.11,775.85 L410.13,775.56 L410.23,775.25 L410.36,774.94 L410.49,774.65 L410.58,774.39 L410.62,774.16 L410.61,773.94 L410.56,773.74 L410.51,773.54 L410.48,773.33 L410.49,773.12 L410.54,772.91 L410.63,772.70 L410.73,772.50 L410.82,772.31 L410.88,772.11 L410.91,771.92 L410.90,771.73 L410.88,771.53 L410.85,771.32 L410.83,771.11 L410.83,770.90 L410.84,770.69 L410.88,770.49 L410.91,770.28 L410.96,770.08 L411.00,769.87 L411.05,769.66 L411.12,769.45 L411.22,769.26 L411.33,769.08 L411.47,768.92 L411.62,768.77 L411.78,768.62 L411.92,768.47 L412.05,768.30 L412.17,768.11 L412.28,767.92 L412.40,767.73 L412.55,767.57 L412.73,767.44 L412.93,767.36 L413.16,767.31 L413.39,767.28 L413.61,767.24 L413.80,767.17 L413.97,767.03 L414.11,766.84 L414.25,766.59 L414.40,766.34 L414.57,766.11 L414.77,765.95 L414.99,765.87 L415.23,765.88 L415.48,765.94 L415.72,766.01 L415.95,766.05 L416.17,766.02 L416.40,765.91 L416.64,765.73 L416.89,765.53 L417.15,765.36 L417.42,765.28 L417.67,765.32 L417.89,765.50 L418.07,765.79 L418.22,766.14 L418.36,766.47 L418.50,766.73 L418.66,766.89 L418.87,766.95 L419.11,766.94 L419.37,766.92 L419.60,766.95 L419.79,767.08 L419.89,767.33 L419.90,767.68 L419.85,768.08 L419.77,768.48 L419.72,768.81 L419.75,769.03 L419.89,769.13 L420.14,769.13 L420.47,769.09 L420.81,769.05 L421.11,769.08 L421.30,769.19 L421.37,769.39 L421.33,769.66 L421.22,769.94 L421.13,770.19 L421.13,770.39 L421.28,770.53 L421.58,770.61 L422.01,770.68 L422.49,770.75 L422.92,770.87 L423.23,771.05 L423.35,771.27 L423.29,771.53 L423.09,771.80 L422.84,772.05 L422.62,772.28 L422.52,772.50Z" fill="none" stroke="#74204e" stroke-width="1.2" opacity="0.9"/><path d="M426.73,772.50 L426.78,772.86 L426.75,773.22 L426.66,773.58 L426.54,773.92 L426.42,774.27 L426.32,774.61 L426.23,774.95 L426.12,775.29 L425.97,775.61 L425.77,775.91 L425.51,776.18 L425.24,776.44 L424.99,776.69 L424.79,776.96 L424.65,777.27 L424.56,777.60 L424.46,777.94 L424.32,778.25 L424.10,778.52 L423.80,778.71 L423.45,778.85 L423.09,778.96 L422.78,779.10 L422.54,779.32 L422.38,779.63 L422.27,780.01 L422.15,780.41 L421.97,780.76 L421.70,780.99 L421.34,781.05 L420.91,780.98 L420.46,780.83 L420.05,780.70 L419.70,780.67 L419.42,780.79 L419.18,781.05 L418.94,781.37 L418.68,781.65 L418.37,781.77 L418.02,781.70 L417.65,781.42 L417.30,781.02 L416.97,780.62 L416.67,780.35 L416.40,780.29 L416.12,780.44 L415.82,780.73 L415.50,781.06 L415.16,781.30 L414.84,781.34 L414.55,781.19 L414.31,780.88 L414.10,780.54 L413.87,780.28 L413.60,780.20 L413.23,780.33 L412.78,780.63 L412.27,780.98 L411.74,781.27 L411.26,781.40 L410.88,781.33 L410.61,781.08 L410.42,780.73 L410.24,780.38 L410.01,780.11 L409.68,779.97 L409.24,779.92 L408.72,779.91 L408.21,779.87 L407.79,779.73 L407.51,779.45 L407.40,779.04 L407.43,778.55 L407.52,778.05 L407.60,777.58 L407.60,777.18 L407.50,776.84 L407.32,776.54 L407.13,776.24 L407.00,775.92 L406.97,775.56 L407.06,775.18 L407.25,774.78 L407.48,774.40 L407.69,774.04 L407.82,773.71 L407.87,773.40 L407.85,773.10 L407.80,772.80 L407.76,772.50 L407.76,772.20 L407.82,771.90 L407.89,771.61 L407.96,771.31 L408.00,771.02 L408.00,770.71 L407.97,770.40 L407.94,770.07 L407.95,769.75 L408.01,769.45 L408.12,769.15 L408.26,768.87 L408.38,768.59 L408.48,768.29 L408.52,767.95 L408.55,767.59 L408.59,767.23 L408.69,766.90 L408.88,766.62 L409.16,766.43 L409.51,766.30 L409.88,766.20 L410.20,766.08 L410.44,765.89 L410.61,765.60 L410.73,765.24 L410.84,764.85 L411.01,764.50 L411.26,764.27 L411.59,764.17 L411.99,764.20 L412.39,764.28 L412.76,764.31 L413.06,764.23 L413.29,763.96 L413.49,763.55 L413.69,763.05 L413.93,762.58 L414.22,762.25 L414.57,762.13 L414.95,762.20 L415.34,762.41 L415.71,762.63 L416.06,762.75 L416.40,762.69 L416.75,762.44 L417.13,762.09 L417.53,761.75 L417.94,761.55 L418.33,761.58 L418.66,761.86 L418.94,762.33 L419.16,762.88 L419.36,763.38 L419.59,763.73 L419.88,763.89 L420.22,763.91 L420.61,763.88 L420.97,763.90 L421.26,764.08 L421.43,764.44 L421.49,764.96 L421.45,765.54 L421.40,766.10 L421.41,766.53 L421.54,766.79 L421.79,766.92 L422.14,766.95 L422.53,766.98 L422.86,767.08 L423.10,767.27 L423.21,767.56 L423.23,767.89 L423.23,768.23 L423.29,768.52 L423.47,768.74 L423.79,768.90 L424.21,769.02 L424.68,769.16 L425.11,769.33 L425.45,769.56 L425.67,769.84 L425.78,770.16 L425.84,770.49 L425.91,770.82 L426.02,771.15 L426.19,771.47 L426.39,771.80 L426.59,772.14 L426.73,772.50Z" fill="none" stroke="#74204e" stroke-width="1.2" opacity="0.9"/><path d="M429.25,772.50 L429.32,772.95 L429.59,773.42 L429.94,773.92 L430.23,774.44 L430.31,774.95 L430.12,775.42 L429.68,775.81 L429.11,776.14 L428.55,776.45 L428.15,776.78 L427.97,777.17 L427.99,777.66 L428.10,778.21 L428.17,778.76 L428.07,779.24 L427.76,779.60 L427.25,779.82 L426.64,779.94 L426.07,780.06 L425.64,780.26 L425.40,780.61 L425.32,781.11 L425.30,781.72 L425.23,782.31 L425.02,782.77 L424.63,783.04 L424.10,783.10 L423.50,783.02 L422.92,782.94 L422.44,782.97 L422.08,783.19 L421.81,783.59 L421.56,784.09 L421.27,784.54 L420.88,784.82 L420.41,784.84 L419.87,784.62 L419.33,784.24 L418.82,783.87 L418.36,783.64 L417.97,783.65 L417.60,783.87 L417.22,784.22 L416.82,784.53 L416.40,784.67 L415.98,784.57 L415.58,784.24 L415.21,783.79 L414.87,783.39 L414.52,783.17 L414.13,783.20 L413.67,783.46 L413.15,783.84 L412.60,784.20 L412.08,784.38 L411.62,784.33 L411.25,784.06 L410.95,783.68 L410.65,783.32 L410.28,783.10 L409.79,783.08 L409.16,783.23 L408.46,783.43 L407.75,783.57 L407.15,783.52 L406.72,783.25 L406.48,782.77 L406.36,782.19 L406.27,781.62 L406.10,781.14 L405.78,780.80 L405.30,780.56 L404.75,780.36 L404.24,780.10 L403.91,779.71 L403.82,779.19 L403.98,778.56 L404.29,777.89 L404.61,777.26 L404.80,776.72 L404.78,776.27 L404.56,775.89 L404.22,775.54 L403.92,775.15 L403.78,774.73 L403.88,774.26 L404.22,773.78 L404.67,773.32 L405.10,772.89 L405.35,772.50 L405.34,772.11 L405.09,771.71 L404.72,771.27 L404.38,770.81 L404.22,770.35 L404.30,769.93 L404.60,769.56 L405.03,769.24 L405.44,768.94 L405.69,768.60 L405.72,768.18 L405.56,767.67 L405.31,767.09 L405.13,766.51 L405.13,765.99 L405.37,765.60 L405.82,765.36 L406.38,765.22 L406.92,765.09 L407.33,764.89 L407.57,764.55 L407.66,764.06 L407.69,763.48 L407.77,762.91 L407.99,762.47 L408.38,762.23 L408.90,762.18 L409.49,762.26 L410.05,762.33 L410.49,762.27 L410.82,762.00 L411.05,761.52 L411.25,760.93 L411.49,760.35 L411.82,759.92 L412.25,759.73 L412.75,759.77 L413.27,759.94 L413.76,760.10 L414.21,760.10 L414.63,759.89 L415.03,759.46 L415.45,758.92 L415.91,758.45 L416.40,758.17 L416.90,758.18 L417.38,758.45 L417.83,758.88 L418.25,759.32 L418.67,759.63 L419.12,759.73 L419.61,759.64 L420.14,759.47 L420.66,759.38 L421.14,759.48 L421.51,759.85 L421.77,760.45 L421.93,761.17 L422.06,761.86 L422.23,762.40 L422.50,762.73 L422.89,762.88 L423.36,762.92 L423.82,763.00 L424.18,763.22 L424.39,763.63 L424.44,764.18 L424.38,764.79 L424.33,765.36 L424.41,765.78 L424.69,766.02 L425.16,766.13 L425.77,766.18 L426.37,766.27 L426.86,766.46 L427.13,766.79 L427.21,767.23 L427.17,767.71 L427.14,768.16 L427.26,768.55 L427.61,768.86 L428.16,769.13 L428.82,769.40 L429.44,769.73 L429.87,770.12 L430.03,770.58 L429.92,771.08 L429.66,771.57 L429.39,772.05 L429.25,772.50Z" fill="none" stroke="#74204e" stroke-width="1.2" opacity="0.9"/><path d="M433.27,772.50 L433.29,773.09 L433.24,773.68 L433.11,774.26 L432.93,774.82 L432.73,775.38 L432.51,775.92 L432.30,776.46 L432.11,777.00 L431.93,777.55 L431.75,778.09 L431.55,778.62 L431.33,779.15 L431.06,779.65 L430.75,780.13 L430.40,780.58 L430.01,781.00 L429.60,781.41 L429.20,781.80 L428.82,782.20 L428.46,782.62 L428.12,783.05 L427.79,783.50 L427.46,783.96 L427.12,784.41 L426.75,784.84 L426.34,785.22 L425.89,785.56 L425.40,785.84 L424.88,786.07 L424.35,786.27 L423.81,786.44 L423.28,786.61 L422.76,786.78 L422.24,786.96 L421.73,787.14 L421.21,787.32 L420.69,787.46 L420.16,787.57 L419.61,787.61 L419.06,787.59 L418.51,787.52 L417.97,787.41 L417.43,787.28 L416.91,787.15 L416.40,787.05 L415.89,786.99 L415.39,786.97 L414.88,786.98 L414.36,787.02 L413.83,787.05 L413.30,787.07 L412.77,787.05 L412.24,787.00 L411.72,786.91 L411.20,786.80 L410.67,786.68 L410.14,786.56 L409.59,786.47 L409.01,786.39 L408.42,786.33 L407.80,786.26 L407.18,786.18 L406.56,786.05 L405.96,785.86 L405.40,785.61 L404.88,785.29 L404.42,784.91 L404.00,784.47 L403.62,784.01 L403.26,783.52 L402.92,783.03 L402.59,782.54 L402.26,782.04 L401.95,781.53 L401.66,781.01 L401.42,780.46 L401.24,779.89 L401.13,779.30 L401.09,778.69 L401.11,778.06 L401.17,777.45 L401.26,776.84 L401.34,776.26 L401.40,775.69 L401.42,775.14 L401.42,774.61 L401.39,774.08 L401.35,773.55 L401.32,773.03 L401.33,772.50 L401.36,771.97 L401.44,771.45 L401.55,770.94 L401.68,770.43 L401.80,769.93 L401.91,769.42 L401.99,768.91 L402.04,768.38 L402.06,767.84 L402.09,767.29 L402.13,766.74 L402.21,766.18 L402.35,765.65 L402.55,765.13 L402.81,764.65 L403.11,764.20 L403.46,763.77 L403.81,763.36 L404.17,762.95 L404.52,762.53 L404.86,762.11 L405.19,761.67 L405.52,761.24 L405.87,760.81 L406.25,760.41 L406.67,760.04 L407.12,759.72 L407.59,759.44 L408.09,759.20 L408.59,758.97 L409.09,758.75 L409.57,758.51 L410.05,758.23 L410.51,757.93 L410.98,757.60 L411.45,757.25 L411.93,756.92 L412.44,756.61 L412.97,756.35 L413.52,756.15 L414.08,756.01 L414.66,755.92 L415.24,755.86 L415.82,755.83 L416.40,755.79 L416.98,755.76 L417.57,755.72 L418.17,755.69 L418.76,755.69 L419.36,755.74 L419.94,755.85 L420.50,756.05 L421.04,756.32 L421.54,756.67 L422.02,757.07 L422.46,757.50 L422.88,757.94 L423.29,758.38 L423.69,758.79 L424.09,759.18 L424.49,759.56 L424.88,759.93 L425.26,760.31 L425.61,760.71 L425.94,761.13 L426.23,761.58 L426.50,762.05 L426.74,762.51 L426.99,762.97 L427.25,763.39 L427.55,763.79 L427.88,764.16 L428.26,764.50 L428.67,764.83 L429.10,765.17 L429.53,765.52 L429.94,765.89 L430.32,766.30 L430.66,766.74 L430.95,767.20 L431.22,767.69 L431.46,768.18 L431.71,768.68 L431.96,769.19 L432.22,769.71 L432.49,770.24 L432.75,770.78 L432.98,771.34 L433.16,771.91 L433.27,772.50Z" fill="none" stroke="#74204e" stroke-width="1.2" opacity="0.9"/><path d="M436.19,772.50 L436.14,773.19 L436.06,773.87 L435.99,774.56 L435.94,775.25 L435.88,775.93 L435.76,776.62 L435.54,777.27 L435.20,777.89 L434.78,778.47 L434.34,779.03 L433.95,779.59 L433.66,780.19 L433.48,780.83 L433.35,781.51 L433.19,782.20 L432.92,782.82 L432.49,783.36 L431.92,783.77 L431.25,784.10 L430.60,784.41 L430.04,784.78 L429.61,785.26 L429.31,785.87 L429.07,786.57 L428.80,787.28 L428.42,787.88 L427.89,788.32 L427.24,788.56 L426.50,788.66 L425.75,788.70 L425.06,788.78 L424.44,788.98 L423.89,789.32 L423.37,789.74 L422.83,790.16 L422.24,790.48 L421.60,790.64 L420.92,790.63 L420.23,790.50 L419.54,790.33 L418.89,790.20 L418.25,790.15 L417.64,790.17 L417.02,790.22 L416.40,790.25 L415.78,790.22 L415.17,790.13 L414.56,790.00 L413.96,789.88 L413.34,789.83 L412.71,789.86 L412.06,789.92 L411.39,789.96 L410.74,789.92 L410.12,789.76 L409.53,789.51 L408.96,789.22 L408.37,788.97 L407.73,788.81 L407.01,788.77 L406.21,788.81 L405.38,788.84 L404.57,788.78 L403.87,788.54 L403.31,788.10 L402.88,787.51 L402.54,786.85 L402.20,786.21 L401.78,785.66 L401.24,785.22 L400.60,784.84 L399.92,784.47 L399.32,784.02 L398.88,783.45 L398.66,782.74 L398.63,781.95 L398.73,781.12 L398.84,780.32 L398.87,779.58 L398.77,778.92 L398.57,778.29 L398.31,777.69 L398.10,777.06 L398.00,776.41 L398.03,775.74 L398.17,775.06 L398.35,774.40 L398.50,773.75 L398.58,773.12 L398.59,772.50 L398.56,771.88 L398.55,771.25 L398.59,770.63 L398.70,770.01 L398.85,769.41 L398.98,768.80 L399.06,768.18 L399.06,767.53 L399.02,766.85 L399.01,766.17 L399.09,765.51 L399.31,764.89 L399.69,764.35 L400.15,763.86 L400.63,763.40 L401.04,762.90 L401.32,762.33 L401.50,761.67 L401.62,760.96 L401.80,760.25 L402.09,759.62 L402.57,759.14 L403.19,758.82 L403.91,758.63 L404.63,758.47 L405.27,758.26 L405.79,757.90 L406.21,757.39 L406.57,756.77 L406.95,756.13 L407.40,755.58 L407.96,755.19 L408.59,754.97 L409.28,754.88 L409.97,754.83 L410.62,754.72 L411.24,754.50 L411.82,754.15 L412.41,753.72 L413.02,753.30 L413.65,752.97 L414.32,752.75 L415.01,752.66 L415.71,752.65 L416.40,752.65 L417.09,752.65 L417.79,752.62 L418.49,752.60 L419.19,752.65 L419.87,752.81 L420.53,753.08 L421.15,753.43 L421.76,753.81 L422.36,754.16 L422.98,754.43 L423.61,754.65 L424.25,754.87 L424.85,755.17 L425.38,755.61 L425.81,756.21 L426.13,756.92 L426.40,757.67 L426.67,758.36 L427.02,758.91 L427.48,759.30 L428.04,759.57 L428.66,759.80 L429.25,760.09 L429.72,760.50 L430.05,761.05 L430.23,761.70 L430.34,762.37 L430.49,762.99 L430.77,763.52 L431.22,763.94 L431.83,764.30 L432.52,764.64 L433.19,765.03 L433.73,765.50 L434.11,766.06 L434.33,766.68 L434.46,767.32 L434.58,767.97 L434.78,768.59 L435.06,769.21 L435.40,769.83 L435.74,770.47 L436.01,771.13 L436.16,771.81 L436.19,772.50Z" fill="none" stroke="#74204e" stroke-width="1.2" opacity="0.9"/></g><g filter="url(#edge5)"><circle cx="523.1" cy="775.4" r="37.5" fill="url(#g15)"/><circle cx="523.1" cy="775.4" r="35" fill="url(#wfade)" filter="url(#w15)" opacity="0.9"/><circle cx="521" cy="773" r="4.5" fill="#6a1a55" opacity="0.55" filter="url(#cblur)"/><path d="M527.31,773.00 L527.18,773.22 L527.00,773.42 L526.83,773.61 L526.71,773.80 L526.63,773.99 L526.62,774.19 L526.64,774.41 L526.66,774.62 L526.66,774.84 L526.61,775.04 L526.51,775.22 L526.36,775.39 L526.19,775.53 L526.02,775.67 L525.88,775.81 L525.76,775.97 L525.66,776.14 L525.58,776.33 L525.48,776.50 L525.36,776.66 L525.20,776.78 L525.00,776.86 L524.78,776.92 L524.57,776.96 L524.38,777.02 L524.23,777.13 L524.13,777.31 L524.07,777.54 L524.02,777.83 L523.97,778.14 L523.88,778.41 L523.74,778.62 L523.55,778.73 L523.32,778.75 L523.08,778.71 L522.83,778.63 L522.60,778.59 L522.40,778.62 L522.23,778.77 L522.06,779.03 L521.90,779.38 L521.71,779.75 L521.49,780.07 L521.25,780.27 L521.00,780.32 L520.75,780.19 L520.52,779.93 L520.31,779.58 L520.13,779.22 L519.95,778.94 L519.77,778.78 L519.56,778.77 L519.31,778.88 L519.03,779.06 L518.73,779.23 L518.45,779.32 L518.21,779.27 L518.04,779.06 L517.97,778.71 L517.96,778.26 L518.01,777.79 L518.05,777.37 L518.05,777.06 L517.96,776.89 L517.77,776.85 L517.49,776.90 L517.14,777.00 L516.79,777.07 L516.49,777.06 L516.29,776.95 L516.21,776.74 L516.25,776.45 L516.36,776.13 L516.48,775.82 L516.57,775.56 L516.56,775.36 L516.42,775.23 L516.17,775.15 L515.84,775.08 L515.48,775.01 L515.16,774.90 L514.94,774.74 L514.83,774.54 L514.85,774.31 L514.96,774.06 L515.12,773.83 L515.27,773.60 L515.37,773.39 L515.38,773.20 L515.31,773.00 L515.18,772.80 L515.03,772.58 L514.90,772.36 L514.82,772.13 L514.82,771.91 L514.88,771.70 L514.99,771.50 L515.12,771.31 L515.24,771.13 L515.33,770.94 L515.38,770.73 L515.40,770.51 L515.41,770.27 L515.43,770.04 L515.48,769.81 L515.58,769.61 L515.71,769.43 L515.87,769.27 L516.03,769.12 L516.17,768.95 L516.28,768.75 L516.37,768.53 L516.45,768.28 L516.54,768.04 L516.66,767.83 L516.84,767.68 L517.07,767.60 L517.36,767.60 L517.66,767.66 L517.97,767.74 L518.24,767.82 L518.48,767.83 L518.67,767.77 L518.83,767.63 L518.97,767.43 L519.12,767.22 L519.29,767.05 L519.50,766.98 L519.73,767.03 L519.98,767.22 L520.23,767.50 L520.45,767.81 L520.66,768.10 L520.84,768.28 L521.00,768.32 L521.17,768.20 L521.35,767.96 L521.56,767.64 L521.80,767.34 L522.04,767.12 L522.27,767.04 L522.47,767.12 L522.62,767.34 L522.74,767.64 L522.84,767.95 L522.94,768.19 L523.09,768.31 L523.31,768.27 L523.60,768.11 L523.96,767.87 L524.37,767.61 L524.76,767.42 L525.11,767.35 L525.35,767.43 L525.49,767.65 L525.51,767.99 L525.48,768.37 L525.42,768.73 L525.41,769.03 L525.48,769.24 L525.67,769.35 L525.95,769.40 L526.30,769.42 L526.66,769.46 L526.96,769.56 L527.15,769.73 L527.21,769.97 L527.13,770.27 L526.97,770.59 L526.76,770.90 L526.58,771.19 L526.47,771.43 L526.48,771.63 L526.59,771.81 L526.78,771.98 L527.01,772.16 L527.21,772.35 L527.34,772.56 L527.38,772.78 L527.31,773.00Z" fill="none" stroke="#f274ac" stroke-width="1.3" opacity="0.85"/><path d="M530.72,773.00 L530.54,773.33 L530.50,773.66 L530.62,774.01 L530.85,774.38 L531.13,774.79 L531.35,775.20 L531.43,775.60 L531.32,775.96 L531.03,776.26 L530.60,776.49 L530.13,776.69 L529.71,776.88 L529.41,777.10 L529.25,777.38 L529.21,777.74 L529.24,778.15 L529.27,778.58 L529.23,778.98 L529.10,779.33 L528.88,779.61 L528.61,779.85 L528.32,780.07 L528.06,780.31 L527.84,780.60 L527.67,780.94 L527.50,781.32 L527.32,781.70 L527.09,782.03 L526.80,782.28 L526.46,782.45 L526.09,782.58 L525.74,782.72 L525.42,782.92 L525.13,783.23 L524.87,783.64 L524.61,784.10 L524.31,784.55 L523.96,784.89 L523.56,785.05 L523.12,785.00 L522.65,784.77 L522.20,784.42 L521.77,784.05 L521.38,783.77 L521.00,783.63 L520.63,783.64 L520.25,783.77 L519.85,783.92 L519.45,784.02 L519.06,783.99 L518.71,783.79 L518.40,783.44 L518.13,783.00 L517.90,782.55 L517.67,782.15 L517.42,781.85 L517.15,781.65 L516.85,781.52 L516.53,781.41 L516.23,781.26 L515.96,781.07 L515.72,780.82 L515.51,780.56 L515.28,780.32 L515.02,780.13 L514.68,780.02 L514.28,779.96 L513.83,779.92 L513.40,779.84 L513.04,779.68 L512.78,779.42 L512.65,779.07 L512.61,778.66 L512.60,778.25 L512.55,777.88 L512.39,777.58 L512.08,777.35 L511.64,777.17 L511.12,776.99 L510.62,776.78 L510.22,776.50 L509.99,776.16 L509.96,775.75 L510.09,775.32 L510.31,774.88 L510.53,774.47 L510.67,774.09 L510.68,773.72 L510.57,773.36 L510.38,773.00 L510.18,772.62 L510.04,772.23 L510.00,771.84 L510.06,771.46 L510.18,771.09 L510.33,770.73 L510.45,770.37 L510.51,769.99 L510.51,769.59 L510.50,769.18 L510.53,768.77 L510.65,768.39 L510.88,768.07 L511.21,767.79 L511.59,767.57 L511.96,767.35 L512.26,767.11 L512.46,766.79 L512.55,766.40 L512.59,765.94 L512.63,765.47 L512.76,765.04 L513.01,764.73 L513.41,764.57 L513.92,764.56 L514.49,764.67 L515.06,764.82 L515.56,764.94 L515.97,764.95 L516.28,764.83 L516.53,764.59 L516.75,764.28 L516.98,763.98 L517.26,763.75 L517.60,763.65 L517.97,763.66 L518.35,763.76 L518.73,763.88 L519.08,763.95 L519.40,763.94 L519.71,763.84 L520.02,763.67 L520.34,763.50 L520.66,763.36 L521.00,763.29 L521.34,763.28 L521.68,763.31 L522.02,763.30 L522.37,763.22 L522.76,763.04 L523.18,762.76 L523.63,762.45 L524.10,762.18 L524.56,762.03 L524.98,762.06 L525.34,762.26 L525.63,762.59 L525.88,763.00 L526.12,763.37 L526.40,763.65 L526.75,763.79 L527.19,763.82 L527.70,763.78 L528.21,763.77 L528.69,763.84 L529.06,764.05 L529.30,764.40 L529.41,764.88 L529.43,765.41 L529.42,765.94 L529.44,766.41 L529.52,766.81 L529.69,767.14 L529.93,767.42 L530.17,767.71 L530.38,768.01 L530.52,768.36 L530.58,768.73 L530.59,769.12 L530.60,769.50 L530.66,769.86 L530.78,770.19 L530.97,770.51 L531.19,770.83 L531.37,771.17 L531.46,771.53 L531.41,771.91 L531.24,772.28 L530.98,772.65 L530.72,773.00Z" fill="none" stroke="#f274ac" stroke-width="1.3" opacity="0.85"/></g><g filter="url(#edge6)"><circle cx="630.5" cy="775.4" r="26.5" fill="url(#g16)"/><path d="M635.29,775.40 L635.57,775.58 L635.77,775.77 L635.86,775.96 L635.82,776.15 L635.66,776.31 L635.42,776.44 L635.13,776.55 L634.86,776.65 L634.66,776.75 L634.55,776.87 L634.54,777.03 L634.61,777.23 L634.72,777.46 L634.83,777.70 L634.89,777.94 L634.87,778.13 L634.76,778.27 L634.56,778.35 L634.29,778.36 L633.99,778.33 L633.71,778.29 L633.46,778.26 L633.28,778.28 L633.17,778.37 L633.11,778.51 L633.08,778.70 L633.06,778.92 L633.01,779.13 L632.93,779.29 L632.80,779.38 L632.63,779.41 L632.43,779.36 L632.22,779.27 L632.02,779.16 L631.84,779.08 L631.68,779.04 L631.55,779.07 L631.44,779.17 L631.33,779.31 L631.22,779.48 L631.10,779.65 L630.96,779.78 L630.81,779.87 L630.66,779.89 L630.50,779.87 L630.35,779.80 L630.20,779.72 L630.05,779.65 L629.91,779.60 L629.76,779.59 L629.60,779.61 L629.44,779.67 L629.26,779.73 L629.07,779.79 L628.89,779.83 L628.71,779.83 L628.54,779.81 L628.38,779.75 L628.23,779.67 L628.09,779.57 L627.96,779.47 L627.82,779.37 L627.69,779.27 L627.55,779.18 L627.41,779.08 L627.28,778.98 L627.15,778.87 L627.03,778.75 L626.92,778.63 L626.81,778.50 L626.71,778.36 L626.61,778.23 L626.51,778.09 L626.42,777.95 L626.34,777.80 L626.28,777.65 L626.24,777.48 L626.22,777.31 L626.23,777.12 L626.26,776.94 L626.30,776.76 L626.33,776.60 L626.35,776.44 L626.33,776.29 L626.29,776.14 L626.23,776.00 L626.15,775.86 L626.08,775.71 L626.05,775.56 L626.05,775.40 L626.12,775.25 L626.22,775.10 L626.36,774.97 L626.51,774.84 L626.64,774.72 L626.73,774.60 L626.76,774.47 L626.73,774.32 L626.65,774.15 L626.54,773.96 L626.45,773.76 L626.39,773.57 L626.39,773.39 L626.46,773.25 L626.60,773.15 L626.78,773.08 L626.99,773.03 L627.18,772.99 L627.32,772.92 L627.41,772.80 L627.43,772.63 L627.40,772.41 L627.35,772.14 L627.31,771.85 L627.30,771.59 L627.35,771.37 L627.47,771.23 L627.66,771.18 L627.88,771.21 L628.13,771.29 L628.37,771.39 L628.57,771.45 L628.74,771.44 L628.86,771.34 L628.95,771.15 L629.04,770.89 L629.13,770.61 L629.24,770.35 L629.39,770.17 L629.57,770.10 L629.76,770.16 L629.97,770.33 L630.16,770.58 L630.34,770.86 L630.50,771.10 L630.64,771.26 L630.79,771.31 L630.94,771.24 L631.11,771.09 L631.30,770.88 L631.50,770.69 L631.70,770.57 L631.89,770.56 L632.03,770.68 L632.13,770.92 L632.18,771.24 L632.20,771.59 L632.21,771.90 L632.23,772.14 L632.30,772.28 L632.44,772.29 L632.65,772.22 L632.91,772.09 L633.19,771.96 L633.46,771.88 L633.67,771.88 L633.80,771.99 L633.83,772.18 L633.78,772.45 L633.67,772.74 L633.56,773.01 L633.48,773.23 L633.49,773.38 L633.61,773.46 L633.84,773.47 L634.15,773.46 L634.50,773.45 L634.84,773.47 L635.10,773.54 L635.25,773.67 L635.27,773.85 L635.17,774.06 L635.00,774.28 L634.80,774.49 L634.64,774.67 L634.56,774.83 L634.60,774.97 L634.75,775.10 L635.00,775.24 L635.29,775.40Z" fill="none" stroke="#e8508c" stroke-width="1.6" opacity="0.9"/><path d="M639.31,775.40 L639.62,775.72 L639.91,776.06 L640.12,776.41 L640.22,776.77 L640.18,777.11 L640.01,777.42 L639.75,777.71 L639.44,777.96 L639.13,778.20 L638.85,778.44 L638.64,778.69 L638.48,778.95 L638.36,779.24 L638.26,779.52 L638.13,779.80 L637.95,780.06 L637.73,780.28 L637.47,780.46 L637.19,780.63 L636.92,780.78 L636.68,780.96 L636.48,781.18 L636.33,781.43 L636.19,781.72 L636.05,782.01 L635.87,782.28 L635.64,782.47 L635.34,782.58 L634.99,782.58 L634.60,782.50 L634.20,782.35 L633.82,782.20 L633.48,782.09 L633.19,782.06 L632.95,782.14 L632.75,782.32 L632.56,782.58 L632.36,782.87 L632.15,783.15 L631.91,783.39 L631.64,783.54 L631.36,783.62 L631.08,783.63 L630.79,783.61 L630.50,783.59 L630.21,783.61 L629.92,783.66 L629.62,783.74 L629.32,783.83 L629.00,783.89 L628.69,783.90 L628.40,783.83 L628.13,783.68 L627.87,783.48 L627.64,783.26 L627.40,783.07 L627.14,782.94 L626.84,782.90 L626.50,782.93 L626.10,783.03 L625.66,783.14 L625.23,783.22 L624.81,783.23 L624.46,783.13 L624.18,782.93 L623.99,782.63 L623.88,782.26 L623.81,781.86 L623.76,781.47 L623.69,781.11 L623.58,780.80 L623.43,780.54 L623.25,780.29 L623.05,780.05 L622.87,779.80 L622.74,779.53 L622.66,779.22 L622.63,778.90 L622.63,778.58 L622.63,778.27 L622.59,777.97 L622.51,777.69 L622.36,777.43 L622.18,777.17 L622.00,776.90 L621.86,776.61 L621.80,776.31 L621.86,776.00 L622.03,775.70 L622.31,775.40 L622.63,775.13 L622.95,774.87 L623.22,774.63 L623.38,774.40 L623.44,774.15 L623.38,773.89 L623.26,773.59 L623.10,773.28 L622.96,772.95 L622.88,772.63 L622.88,772.32 L622.95,772.04 L623.09,771.78 L623.25,771.54 L623.40,771.30 L623.54,771.05 L623.64,770.77 L623.71,770.47 L623.79,770.16 L623.89,769.86 L624.05,769.59 L624.25,769.37 L624.52,769.20 L624.82,769.09 L625.12,768.99 L625.41,768.88 L625.65,768.72 L625.84,768.49 L625.98,768.17 L626.10,767.77 L626.22,767.34 L626.37,766.92 L626.56,766.56 L626.82,766.30 L627.14,766.16 L627.49,766.15 L627.87,766.24 L628.25,766.38 L628.61,766.53 L628.96,766.64 L629.28,766.71 L629.59,766.71 L629.89,766.67 L630.19,766.62 L630.50,766.59 L630.81,766.62 L631.11,766.70 L631.40,766.83 L631.68,766.99 L631.95,767.15 L632.23,767.27 L632.51,767.33 L632.81,767.34 L633.13,767.31 L633.45,767.29 L633.77,767.31 L634.06,767.41 L634.30,767.62 L634.48,767.92 L634.60,768.30 L634.67,768.72 L634.73,769.13 L634.80,769.48 L634.92,769.74 L635.11,769.91 L635.37,769.99 L635.69,770.03 L636.04,770.05 L636.39,770.09 L636.71,770.19 L636.98,770.34 L637.18,770.54 L637.34,770.79 L637.47,771.05 L637.60,771.30 L637.75,771.54 L637.94,771.77 L638.16,771.99 L638.39,772.21 L638.60,772.45 L638.76,772.72 L638.85,773.01 L638.86,773.32 L638.81,773.63 L638.74,773.95 L638.69,774.25 L638.71,774.54 L638.82,774.82 L639.02,775.10 L639.31,775.40Z" fill="none" stroke="#e8508c" stroke-width="1.6" opacity="0.9"/><path d="M644.05,775.40 L644.18,775.88 L644.24,776.36 L644.22,776.84 L644.12,777.31 L643.96,777.77 L643.73,778.21 L643.45,778.63 L643.16,779.03 L642.85,779.41 L642.55,779.79 L642.27,780.15 L642.02,780.53 L641.80,780.91 L641.60,781.30 L641.43,781.71 L641.28,782.13 L641.11,782.56 L640.94,782.98 L640.73,783.39 L640.49,783.78 L640.20,784.13 L639.86,784.44 L639.47,784.69 L639.04,784.89 L638.58,785.04 L638.11,785.13 L637.62,785.20 L637.14,785.24 L636.67,785.27 L636.23,785.32 L635.81,785.38 L635.42,785.49 L635.06,785.63 L634.71,785.82 L634.38,786.05 L634.05,786.32 L633.71,786.60 L633.36,786.88 L633.00,787.15 L632.61,787.39 L632.21,787.59 L631.80,787.73 L631.37,787.80 L630.93,787.82 L630.50,787.77 L630.07,787.69 L629.65,787.57 L629.24,787.43 L628.83,787.30 L628.42,787.18 L628.02,787.09 L627.60,787.03 L627.17,787.02 L626.72,787.03 L626.25,787.07 L625.76,787.13 L625.26,787.18 L624.74,787.20 L624.23,787.19 L623.73,787.13 L623.24,787.01 L622.80,786.82 L622.39,786.56 L622.03,786.24 L621.72,785.87 L621.45,785.45 L621.23,785.00 L621.03,784.55 L620.85,784.09 L620.68,783.64 L620.50,783.21 L620.30,782.81 L620.08,782.43 L619.83,782.06 L619.57,781.71 L619.28,781.36 L618.99,781.01 L618.71,780.65 L618.46,780.26 L618.25,779.86 L618.09,779.43 L617.99,778.99 L617.97,778.52 L618.01,778.05 L618.11,777.58 L618.27,777.12 L618.46,776.67 L618.66,776.23 L618.86,775.81 L619.05,775.40 L619.20,775.01 L619.30,774.62 L619.36,774.23 L619.37,773.84 L619.34,773.43 L619.27,773.01 L619.20,772.58 L619.12,772.14 L619.07,771.69 L619.06,771.23 L619.09,770.79 L619.18,770.36 L619.33,769.95 L619.53,769.57 L619.78,769.21 L620.07,768.88 L620.39,768.58 L620.71,768.29 L621.03,768.00 L621.34,767.71 L621.62,767.40 L621.88,767.07 L622.11,766.71 L622.32,766.31 L622.52,765.88 L622.71,765.43 L622.92,764.97 L623.16,764.51 L623.42,764.07 L623.73,763.67 L624.07,763.31 L624.46,763.02 L624.89,762.79 L625.35,762.64 L625.83,762.56 L626.32,762.54 L626.82,762.57 L627.31,762.62 L627.80,762.70 L628.27,762.77 L628.73,762.83 L629.18,762.86 L629.62,762.86 L630.06,762.83 L630.50,762.77 L630.94,762.70 L631.39,762.63 L631.85,762.57 L632.31,762.54 L632.76,762.56 L633.21,762.64 L633.65,762.78 L634.06,762.98 L634.45,763.26 L634.80,763.58 L635.13,763.95 L635.43,764.34 L635.70,764.73 L635.97,765.12 L636.23,765.48 L636.49,765.81 L636.78,766.10 L637.08,766.34 L637.42,766.54 L637.79,766.72 L638.18,766.87 L638.59,767.02 L639.01,767.18 L639.43,767.36 L639.83,767.57 L640.20,767.82 L640.53,768.12 L640.81,768.45 L641.04,768.82 L641.22,769.21 L641.36,769.63 L641.46,770.05 L641.55,770.48 L641.64,770.90 L641.74,771.31 L641.87,771.71 L642.03,772.10 L642.23,772.48 L642.46,772.86 L642.73,773.24 L643.02,773.64 L643.32,774.05 L643.60,774.48 L643.85,774.93 L644.05,775.40Z" fill="none" stroke="#e8508c" stroke-width="1.6" opacity="0.9"/><path d="M647.64,775.40 L647.89,776.01 L648.06,776.63 L648.14,777.25 L648.10,777.87 L647.94,778.48 L647.67,779.05 L647.33,779.60 L646.94,780.12 L646.57,780.62 L646.23,781.12 L645.95,781.64 L645.74,782.19 L645.59,782.76 L645.47,783.36 L645.33,783.96 L645.16,784.56 L644.90,785.11 L644.54,785.60 L644.08,786.01 L643.53,786.34 L642.92,786.58 L642.28,786.78 L641.65,786.95 L641.06,787.13 L640.53,787.36 L640.07,787.65 L639.67,788.02 L639.30,788.45 L638.94,788.91 L638.57,789.38 L638.15,789.79 L637.68,790.12 L637.15,790.34 L636.58,790.45 L635.98,790.46 L635.37,790.39 L634.77,790.30 L634.20,790.23 L633.65,790.22 L633.13,790.31 L632.62,790.50 L632.12,790.78 L631.60,791.12 L631.06,791.47 L630.50,791.78 L629.92,792.01 L629.33,792.12 L628.74,792.10 L628.17,791.96 L627.62,791.72 L627.09,791.44 L626.57,791.15 L626.05,790.90 L625.52,790.73 L624.95,790.64 L624.35,790.62 L623.71,790.65 L623.04,790.69 L622.37,790.69 L621.71,790.62 L621.10,790.44 L620.56,790.14 L620.08,789.74 L619.69,789.24 L619.35,788.69 L619.04,788.12 L618.75,787.57 L618.43,787.06 L618.07,786.59 L617.66,786.18 L617.19,785.80 L616.71,785.42 L616.22,785.03 L615.77,784.60 L615.39,784.12 L615.11,783.58 L614.93,782.99 L614.86,782.36 L614.87,781.72 L614.93,781.07 L615.00,780.44 L615.05,779.83 L615.06,779.25 L615.00,778.70 L614.88,778.15 L614.72,777.62 L614.55,777.08 L614.39,776.53 L614.28,775.97 L614.24,775.40 L614.29,774.83 L614.42,774.28 L614.62,773.73 L614.86,773.20 L615.12,772.69 L615.36,772.18 L615.57,771.68 L615.72,771.16 L615.83,770.63 L615.90,770.09 L615.95,769.52 L616.01,768.95 L616.09,768.37 L616.22,767.81 L616.41,767.26 L616.65,766.74 L616.94,766.25 L617.27,765.79 L617.63,765.35 L618.00,764.91 L618.37,764.48 L618.73,764.04 L619.09,763.58 L619.44,763.12 L619.79,762.64 L620.16,762.16 L620.54,761.69 L620.95,761.25 L621.39,760.83 L621.87,760.45 L622.37,760.11 L622.90,759.81 L623.44,759.55 L624.01,759.33 L624.58,759.14 L625.16,758.97 L625.75,758.83 L626.34,758.71 L626.93,758.61 L627.52,758.53 L628.12,758.46 L628.71,758.41 L629.31,758.38 L629.91,758.37 L630.50,758.38 L631.09,758.41 L631.68,758.48 L632.27,758.58 L632.84,758.72 L633.41,758.90 L633.96,759.12 L634.49,759.39 L635.01,759.68 L635.50,760.00 L635.99,760.32 L636.47,760.63 L636.95,760.92 L637.43,761.20 L637.92,761.45 L638.41,761.69 L638.92,761.93 L639.41,762.19 L639.90,762.47 L640.35,762.79 L640.77,763.16 L641.15,763.57 L641.49,764.02 L641.79,764.49 L642.08,764.97 L642.38,765.44 L642.69,765.88 L643.03,766.29 L643.42,766.68 L643.86,767.05 L644.32,767.42 L644.79,767.80 L645.24,768.21 L645.65,768.65 L645.99,769.14 L646.24,769.67 L646.42,770.23 L646.52,770.81 L646.57,771.39 L646.61,771.98 L646.66,772.55 L646.76,773.12 L646.91,773.68 L647.12,774.24 L647.38,774.81 L647.64,775.40Z" fill="none" stroke="#e8508c" stroke-width="1.6" opacity="0.9"/><circle cx="642" cy="757" r="5" fill="#4a0a2a" opacity="0.6" filter="url(#cblur)"/></g><g filter="url(#edge7)"><circle cx="93" cy="882.6" r="38" fill="url(#g21)"/><g filter="url(#cblur)"><line x1="109.9" y1="884.3" x2="130.8" y2="886.4" stroke="#3a3a70" stroke-width="1.6" opacity="0.28"/><line x1="108.3" y1="890.0" x2="127.2" y2="899.1" stroke="#3a3a70" stroke-width="1.6" opacity="0.28"/><line x1="104.9" y1="894.8" x2="119.5" y2="909.8" stroke="#3a3a70" stroke-width="1.6" opacity="0.28"/><line x1="100.0" y1="898.1" x2="108.6" y2="917.2" stroke="#3a3a70" stroke-width="1.6" opacity="0.28"/><line x1="94.3" y1="899.6" x2="95.8" y2="920.5" stroke="#3a3a70" stroke-width="1.6" opacity="0.28"/><line x1="88.4" y1="899.0" x2="82.7" y2="919.2" stroke="#3a3a70" stroke-width="1.6" opacity="0.28"/><line x1="83.1" y1="896.4" x2="70.8" y2="913.4" stroke="#3a3a70" stroke-width="1.6" opacity="0.28"/><line x1="79.0" y1="892.2" x2="61.6" y2="904.0" stroke="#3a3a70" stroke-width="1.6" opacity="0.28"/><line x1="76.5" y1="886.8" x2="56.2" y2="892.0" stroke="#3a3a70" stroke-width="1.6" opacity="0.28"/><line x1="76.1" y1="880.9" x2="55.2" y2="878.8" stroke="#3a3a70" stroke-width="1.6" opacity="0.28"/><line x1="77.7" y1="875.2" x2="58.8" y2="866.1" stroke="#3a3a70" stroke-width="1.6" opacity="0.28"/><line x1="81.1" y1="870.4" x2="66.5" y2="855.4" stroke="#3a3a70" stroke-width="1.6" opacity="0.28"/><line x1="86.0" y1="867.1" x2="77.4" y2="848.0" stroke="#3a3a70" stroke-width="1.6" opacity="0.28"/><line x1="91.7" y1="865.6" x2="90.2" y2="844.7" stroke="#3a3a70" stroke-width="1.6" opacity="0.28"/><line x1="97.6" y1="866.2" x2="103.3" y2="846.0" stroke="#3a3a70" stroke-width="1.6" opacity="0.28"/><line x1="102.9" y1="868.8" x2="115.2" y2="851.8" stroke="#3a3a70" stroke-width="1.6" opacity="0.28"/><line x1="107.0" y1="873.0" x2="124.4" y2="861.2" stroke="#3a3a70" stroke-width="1.6" opacity="0.28"/><line x1="109.5" y1="878.4" x2="129.8" y2="873.2" stroke="#3a3a70" stroke-width="1.6" opacity="0.28"/></g><circle cx="93" cy="882.6" r="10.5" fill="url(#wfade)" filter="url(#w21)" opacity="0.6"/></g><g filter="url(#edge8)"><circle cx="199.2" cy="882.4" r="30" fill="url(#g22)"/></g><g filter="url(#edge9)"><circle cx="310" cy="885" r="46" fill="url(#g23)"/><circle cx="310" cy="885" r="43" fill="url(#wfade)" filter="url(#w23)" opacity="0.9"/><circle cx="309" cy="884" r="4.5" fill="#6a1a55" opacity="0.55" filter="url(#cblur)"/><path d="M315.19,884.00 L315.02,884.21 L314.81,884.41 L314.61,884.59 L314.44,884.76 L314.34,884.94 L314.29,885.13 L314.29,885.32 L314.30,885.52 L314.29,885.72 L314.24,885.91 L314.15,886.08 L314.03,886.24 L313.89,886.39 L313.77,886.54 L313.67,886.70 L313.61,886.88 L313.58,887.09 L313.56,887.32 L313.54,887.55 L313.48,887.76 L313.39,887.95 L313.25,888.10 L313.09,888.23 L312.92,888.35 L312.76,888.48 L312.64,888.66 L312.55,888.89 L312.50,889.18 L312.44,889.51 L312.37,889.84 L312.26,890.13 L312.09,890.33 L311.86,890.42 L311.59,890.41 L311.29,890.31 L311.00,890.16 L310.73,890.03 L310.49,889.98 L310.28,890.02 L310.09,890.17 L309.90,890.40 L309.70,890.65 L309.48,890.86 L309.24,890.95 L309.00,890.89 L308.77,890.67 L308.56,890.33 L308.38,889.91 L308.23,889.51 L308.08,889.19 L307.93,889.02 L307.75,889.01 L307.53,889.13 L307.26,889.34 L306.98,889.56 L306.69,889.71 L306.45,889.73 L306.27,889.59 L306.17,889.32 L306.14,888.95 L306.15,888.56 L306.15,888.22 L306.11,887.98 L305.97,887.88 L305.73,887.89 L305.40,888.00 L305.01,888.13 L304.62,888.23 L304.29,888.24 L304.06,888.15 L303.96,887.94 L303.98,887.64 L304.09,887.31 L304.22,886.99 L304.32,886.70 L304.32,886.49 L304.21,886.34 L303.98,886.23 L303.68,886.15 L303.34,886.06 L303.05,885.93 L302.85,885.76 L302.76,885.56 L302.79,885.32 L302.91,885.07 L303.07,884.83 L303.21,884.61 L303.29,884.40 L303.28,884.20 L303.19,884.00 L303.03,883.79 L302.84,883.57 L302.67,883.33 L302.56,883.09 L302.52,882.86 L302.56,882.63 L302.65,882.42 L302.76,882.21 L302.87,882.01 L302.96,881.80 L303.03,881.59 L303.07,881.36 L303.11,881.13 L303.17,880.90 L303.28,880.70 L303.43,880.52 L303.63,880.38 L303.86,880.26 L304.08,880.16 L304.29,880.05 L304.47,879.92 L304.62,879.77 L304.75,879.60 L304.89,879.43 L305.05,879.29 L305.25,879.20 L305.50,879.18 L305.79,879.23 L306.08,879.33 L306.37,879.45 L306.62,879.53 L306.83,879.54 L306.98,879.46 L307.09,879.28 L307.19,879.03 L307.29,878.75 L307.42,878.50 L307.59,878.33 L307.78,878.28 L308.00,878.35 L308.23,878.52 L308.44,878.72 L308.64,878.88 L308.82,878.96 L309.00,878.89 L309.19,878.68 L309.39,878.36 L309.63,877.98 L309.90,877.63 L310.17,877.37 L310.43,877.28 L310.66,877.36 L310.84,877.60 L310.97,877.93 L311.08,878.29 L311.19,878.58 L311.33,878.77 L311.53,878.81 L311.81,878.72 L312.14,878.56 L312.51,878.38 L312.86,878.27 L313.16,878.27 L313.36,878.42 L313.45,878.70 L313.43,879.08 L313.35,879.50 L313.25,879.89 L313.21,880.21 L313.25,880.43 L313.42,880.55 L313.69,880.59 L314.04,880.60 L314.40,880.63 L314.71,880.70 L314.92,880.85 L314.99,881.08 L314.94,881.35 L314.80,881.66 L314.62,881.95 L314.46,882.22 L314.38,882.46 L314.40,882.65 L314.53,882.82 L314.73,882.99 L314.95,883.16 L315.14,883.35 L315.26,883.56 L315.28,883.78 L315.19,884.00Z" fill="none" stroke="#f274ac" stroke-width="1.3" opacity="0.85"/><path d="M318.46,884.00 L318.25,884.32 L318.18,884.64 L318.28,884.98 L318.51,885.34 L318.80,885.73 L319.05,886.14 L319.16,886.53 L319.11,886.90 L318.88,887.21 L318.53,887.47 L318.16,887.70 L317.83,887.93 L317.63,888.21 L317.58,888.56 L317.64,888.99 L317.77,889.48 L317.89,889.99 L317.93,890.49 L317.86,890.92 L317.69,891.29 L317.44,891.60 L317.16,891.88 L316.89,892.17 L316.64,892.49 L316.42,892.84 L316.20,893.21 L315.94,893.55 L315.62,893.82 L315.24,893.98 L314.80,894.05 L314.34,894.05 L313.89,894.04 L313.49,894.08 L313.12,894.21 L312.80,894.43 L312.48,894.72 L312.15,894.98 L311.78,895.14 L311.37,895.14 L310.93,894.95 L310.49,894.59 L310.07,894.14 L309.68,893.70 L309.33,893.37 L309.00,893.21 L308.68,893.24 L308.34,893.41 L307.99,893.64 L307.62,893.84 L307.25,893.92 L306.90,893.86 L306.59,893.66 L306.31,893.39 L306.04,893.10 L305.77,892.87 L305.47,892.73 L305.14,892.68 L304.76,892.69 L304.37,892.70 L304.00,892.67 L303.65,892.56 L303.35,892.38 L303.07,892.16 L302.79,891.94 L302.48,891.76 L302.12,891.64 L301.70,891.56 L301.26,891.48 L300.84,891.35 L300.50,891.14 L300.28,890.81 L300.19,890.40 L300.20,889.93 L300.26,889.46 L300.27,889.04 L300.16,888.70 L299.91,888.43 L299.51,888.22 L299.04,888.03 L298.56,887.80 L298.18,887.51 L297.97,887.16 L297.93,886.76 L298.05,886.33 L298.25,885.90 L298.43,885.49 L298.53,885.10 L298.50,884.73 L298.35,884.37 L298.12,884.00 L297.89,883.61 L297.72,883.21 L297.66,882.81 L297.71,882.41 L297.85,882.03 L298.02,881.67 L298.18,881.30 L298.29,880.93 L298.36,880.54 L298.44,880.16 L298.56,879.78 L298.78,879.45 L299.11,879.18 L299.54,878.97 L300.03,878.82 L300.49,878.68 L300.88,878.52 L301.15,878.30 L301.31,877.99 L301.39,877.62 L301.47,877.22 L301.60,876.85 L301.84,876.59 L302.21,876.46 L302.67,876.46 L303.18,876.56 L303.68,876.68 L304.10,876.73 L304.41,876.66 L304.63,876.43 L304.78,876.06 L304.90,875.60 L305.05,875.13 L305.26,874.73 L305.52,874.45 L305.84,874.28 L306.19,874.19 L306.54,874.13 L306.88,874.04 L307.22,873.88 L307.55,873.66 L307.88,873.39 L308.24,873.14 L308.61,872.96 L309.00,872.87 L309.39,872.88 L309.77,872.95 L310.15,873.02 L310.54,873.04 L310.94,872.97 L311.37,872.84 L311.82,872.68 L312.28,872.57 L312.71,872.58 L313.09,872.77 L313.39,873.13 L313.62,873.62 L313.80,874.17 L313.96,874.66 L314.17,875.05 L314.45,875.28 L314.82,875.38 L315.26,875.39 L315.72,875.39 L316.16,875.47 L316.50,875.67 L316.73,876.00 L316.84,876.43 L316.87,876.92 L316.88,877.39 L316.93,877.80 L317.07,878.14 L317.29,878.41 L317.58,878.64 L317.88,878.87 L318.15,879.14 L318.34,879.44 L318.45,879.79 L318.51,880.16 L318.55,880.52 L318.62,880.87 L318.76,881.20 L318.95,881.52 L319.15,881.84 L319.31,882.18 L319.36,882.54 L319.28,882.92 L319.06,883.30 L318.76,883.66 L318.46,884.00Z" fill="none" stroke="#f274ac" stroke-width="1.3" opacity="0.85"/></g><g filter="url(#edge10)"><circle cx="414" cy="881.5" r="30.5" fill="url(#g24)"/><circle cx="389" cy="899" r="2.5" fill="#7fb4dc" filter="url(#cblur)"/><circle cx="396" cy="854" r="2.4" fill="#7fb4dc" filter="url(#cblur)"/><circle cx="437" cy="893" r="2.2" fill="#7fb4dc" filter="url(#cblur)"/><circle cx="418" cy="910" r="2.4" fill="#7fb4dc" filter="url(#cblur)"/><circle cx="435" cy="858" r="2" fill="#7fb4dc" filter="url(#cblur)"/><path d="M418.12,881.50 L418.14,881.64 L417.94,881.78 L417.59,881.88 L417.21,881.95 L416.89,882.01 L416.72,882.08 L416.73,882.18 L416.88,882.33 L417.10,882.51 L417.31,882.70 L417.42,882.88 L417.40,883.01 L417.26,883.09 L417.03,883.11 L416.79,883.11 L416.58,883.11 L416.43,883.14 L416.35,883.21 L416.30,883.30 L416.25,883.39 L416.16,883.44 L416.02,883.45 L415.84,883.41 L415.67,883.35 L415.53,883.32 L415.45,883.36 L415.44,883.48 L415.48,883.69 L415.52,883.92 L415.52,884.13 L415.45,884.22 L415.31,884.18 L415.11,883.99 L414.90,883.72 L414.71,883.45 L414.58,883.29 L414.52,883.30 L414.50,883.52 L414.51,883.91 L414.51,884.38 L414.47,884.81 L414.38,885.10 L414.26,885.18 L414.12,885.03 L414.00,884.72 L413.90,884.36 L413.82,884.06 L413.75,883.92 L413.65,883.98 L413.52,884.22 L413.35,884.56 L413.15,884.90 L412.95,885.15 L412.78,885.24 L412.66,885.17 L412.60,884.97 L412.57,884.72 L412.55,884.48 L412.51,884.31 L412.43,884.23 L412.31,884.21 L412.16,884.22 L412.03,884.22 L411.93,884.16 L411.87,884.04 L411.86,883.88 L411.86,883.72 L411.83,883.60 L411.75,883.53 L411.61,883.51 L411.44,883.50 L411.28,883.48 L411.19,883.39 L411.22,883.24 L411.36,883.02 L411.59,882.78 L411.84,882.55 L412.02,882.38 L412.06,882.28 L411.92,882.26 L411.62,882.27 L411.23,882.29 L410.86,882.28 L410.62,882.22 L410.57,882.10 L410.74,881.96 L411.07,881.81 L411.48,881.68 L411.83,881.58 L412.02,881.50 L411.99,881.43 L411.76,881.34 L411.39,881.23 L411.00,881.08 L410.68,880.91 L410.53,880.76 L410.57,880.65 L410.77,880.57 L411.05,880.54 L411.33,880.53 L411.53,880.50 L411.62,880.44 L411.59,880.32 L411.49,880.16 L411.38,879.99 L411.31,879.82 L411.32,879.69 L411.40,879.61 L411.52,879.56 L411.64,879.52 L411.72,879.45 L411.76,879.34 L411.76,879.18 L411.77,879.02 L411.81,878.89 L411.91,878.83 L412.08,878.86 L412.30,878.98 L412.51,879.12 L412.69,879.23 L412.80,879.24 L412.83,879.11 L412.81,878.83 L412.78,878.47 L412.77,878.12 L412.82,877.86 L412.93,877.79 L413.11,877.92 L413.30,878.22 L413.49,878.61 L413.64,878.96 L413.76,879.18 L413.84,879.18 L413.91,878.97 L414.00,878.61 L414.11,878.21 L414.25,877.88 L414.40,877.72 L414.52,877.77 L414.62,878.01 L414.67,878.37 L414.69,878.74 L414.71,879.04 L414.75,879.19 L414.84,879.20 L414.97,879.09 L415.14,878.93 L415.31,878.81 L415.45,878.76 L415.55,878.82 L415.59,878.95 L415.61,879.12 L415.62,879.27 L415.66,879.37 L415.74,879.43 L415.85,879.44 L415.97,879.46 L416.05,879.52 L416.08,879.63 L416.04,879.79 L415.96,879.96 L415.90,880.12 L415.90,880.22 L416.02,880.24 L416.25,880.20 L416.57,880.13 L416.91,880.08 L417.18,880.08 L417.31,880.16 L417.26,880.31 L417.05,880.51 L416.75,880.71 L416.47,880.89 L416.31,881.01 L416.34,881.09 L416.59,881.14 L417.00,881.18 L417.47,881.26 L417.88,881.36 L418.12,881.50Z" fill="none" stroke="#74204e" stroke-width="1.2" opacity="0.9"/><path d="M420.66,881.50 L420.85,881.74 L421.14,882.00 L421.44,882.28 L421.65,882.57 L421.70,882.86 L421.56,883.11 L421.27,883.31 L420.90,883.48 L420.55,883.63 L420.30,883.79 L420.19,884.00 L420.21,884.26 L420.28,884.56 L420.33,884.86 L420.27,885.12 L420.05,885.28 L419.70,885.34 L419.25,885.32 L418.80,885.25 L418.42,885.21 L418.15,885.24 L418.02,885.38 L417.97,885.61 L417.95,885.89 L417.89,886.14 L417.75,886.30 L417.50,886.32 L417.19,886.22 L416.84,886.05 L416.54,885.89 L416.30,885.83 L416.15,885.91 L416.07,886.15 L416.02,886.50 L415.95,886.87 L415.84,887.17 L415.67,887.33 L415.46,887.34 L415.22,887.23 L414.98,887.08 L414.77,886.99 L414.58,887.03 L414.40,887.24 L414.21,887.59 L414.00,888.00 L413.76,888.36 L413.50,888.60 L413.25,888.66 L413.01,888.55 L412.80,888.33 L412.60,888.10 L412.39,887.95 L412.16,887.93 L411.87,888.05 L411.54,888.26 L411.19,888.46 L410.85,888.57 L410.57,888.53 L410.38,888.31 L410.27,887.96 L410.22,887.55 L410.17,887.17 L410.08,886.89 L409.91,886.74 L409.64,886.69 L409.33,886.69 L409.02,886.65 L408.79,886.53 L408.69,886.28 L408.72,885.93 L408.85,885.52 L409.02,885.12 L409.14,884.78 L409.15,884.53 L409.01,884.38 L408.77,884.28 L408.47,884.20 L408.22,884.07 L408.09,883.89 L408.12,883.64 L408.28,883.36 L408.52,883.07 L408.73,882.81 L408.84,882.60 L408.78,882.42 L408.57,882.26 L408.25,882.10 L407.93,881.92 L407.70,881.72 L407.63,881.50 L407.73,881.28 L407.95,881.08 L408.20,880.89 L408.40,880.71 L408.46,880.52 L408.36,880.30 L408.13,880.04 L407.86,879.74 L407.64,879.43 L407.55,879.15 L407.64,878.93 L407.87,878.77 L408.19,878.66 L408.50,878.58 L408.73,878.46 L408.83,878.27 L408.80,877.99 L408.70,877.65 L408.60,877.28 L408.58,876.95 L408.69,876.72 L408.94,876.61 L409.27,876.61 L409.64,876.66 L409.96,876.69 L410.20,876.64 L410.34,876.46 L410.40,876.17 L410.44,875.81 L410.51,875.46 L410.65,875.20 L410.88,875.10 L411.17,875.14 L411.50,875.30 L411.81,875.48 L412.08,875.59 L412.30,875.57 L412.48,875.39 L412.64,875.10 L412.81,874.77 L413.02,874.51 L413.25,874.39 L413.51,874.46 L413.76,874.67 L414.00,874.97 L414.22,875.25 L414.43,875.41 L414.64,875.43 L414.87,875.30 L415.13,875.09 L415.40,874.90 L415.67,874.82 L415.89,874.90 L416.06,875.15 L416.18,875.51 L416.26,875.91 L416.34,876.23 L416.47,876.43 L416.67,876.48 L416.93,876.42 L417.24,876.32 L417.53,876.27 L417.75,876.34 L417.87,876.54 L417.90,876.86 L417.85,877.23 L417.79,877.57 L417.80,877.83 L417.92,877.97 L418.17,878.00 L418.51,877.97 L418.88,877.95 L419.19,878.00 L419.39,878.13 L419.45,878.35 L419.39,878.63 L419.29,878.92 L419.23,879.17 L419.29,879.36 L419.50,879.50 L419.86,879.60 L420.28,879.70 L420.69,879.83 L420.97,880.02 L421.10,880.25 L421.05,880.51 L420.89,880.78 L420.72,881.03 L420.62,881.27 L420.66,881.50Z" fill="none" stroke="#74204e" stroke-width="1.2" opacity="0.9"/><path d="M425.15,881.50 L424.84,881.88 L424.54,882.24 L424.31,882.58 L424.24,882.94 L424.34,883.32 L424.58,883.75 L424.88,884.21 L425.15,884.70 L425.28,885.17 L425.21,885.58 L424.91,885.91 L424.39,886.13 L423.74,886.25 L423.03,886.30 L422.39,886.34 L421.88,886.42 L421.55,886.59 L421.38,886.87 L421.35,887.24 L421.35,887.67 L421.32,888.09 L421.17,888.43 L420.88,888.62 L420.44,888.66 L419.90,888.54 L419.32,888.31 L418.77,888.06 L418.30,887.88 L417.95,887.83 L417.73,887.96 L417.59,888.26 L417.51,888.70 L417.42,889.19 L417.29,889.65 L417.10,890.01 L416.83,890.22 L416.52,890.28 L416.17,890.21 L415.83,890.10 L415.50,890.00 L415.19,890.00 L414.91,890.13 L414.62,890.40 L414.32,890.79 L414.00,891.22 L413.65,891.63 L413.27,891.97 L412.88,892.19 L412.49,892.27 L412.11,892.24 L411.74,892.14 L411.38,892.01 L411.02,891.89 L410.65,891.81 L410.26,891.76 L409.87,891.73 L409.46,891.69 L409.07,891.60 L408.71,891.45 L408.38,891.23 L408.10,890.95 L407.84,890.64 L407.60,890.31 L407.36,890.00 L407.11,889.71 L406.86,889.43 L406.61,889.15 L406.40,888.84 L406.23,888.49 L406.14,888.10 L406.12,887.66 L406.16,887.20 L406.22,886.75 L406.25,886.34 L406.23,885.98 L406.12,885.69 L405.92,885.44 L405.65,885.22 L405.37,884.99 L405.12,884.73 L404.98,884.43 L404.97,884.09 L405.10,883.72 L405.33,883.34 L405.59,882.98 L405.81,882.65 L405.91,882.35 L405.84,882.07 L405.59,881.79 L405.20,881.50 L404.76,881.18 L404.34,880.82 L404.05,880.45 L403.95,880.09 L404.06,879.75 L404.36,879.45 L404.77,879.20 L405.19,878.97 L405.52,878.75 L405.70,878.48 L405.68,878.14 L405.50,877.72 L405.22,877.22 L404.92,876.67 L404.72,876.14 L404.69,875.68 L404.86,875.33 L405.22,875.12 L405.73,875.04 L406.29,875.03 L406.83,875.04 L407.27,875.00 L407.56,874.83 L407.71,874.52 L407.76,874.07 L407.77,873.53 L407.80,872.97 L407.92,872.48 L408.15,872.14 L408.50,871.98 L408.94,871.99 L409.43,872.13 L409.92,872.34 L410.37,872.51 L410.75,872.58 L411.07,872.50 L411.35,872.26 L411.61,871.91 L411.88,871.51 L412.17,871.15 L412.51,870.89 L412.87,870.78 L413.25,870.83 L413.63,871.01 L414.00,871.27 L414.35,871.55 L414.68,871.78 L415.01,871.92 L415.34,871.98 L415.68,871.97 L416.04,871.92 L416.39,871.90 L416.74,871.94 L417.07,872.05 L417.37,872.25 L417.63,872.51 L417.88,872.79 L418.11,873.08 L418.34,873.34 L418.58,873.56 L418.84,873.76 L419.09,873.95 L419.34,874.15 L419.56,874.38 L419.75,874.65 L419.90,874.95 L420.04,875.24 L420.19,875.52 L420.37,875.76 L420.61,875.95 L420.91,876.10 L421.25,876.23 L421.61,876.37 L421.94,876.54 L422.21,876.76 L422.39,877.04 L422.48,877.36 L422.50,877.71 L422.51,878.06 L422.56,878.38 L422.71,878.67 L422.99,878.92 L423.40,879.16 L423.91,879.39 L424.44,879.66 L424.92,879.97 L425.26,880.32 L425.41,880.70 L425.37,881.10 L425.15,881.50Z" fill="none" stroke="#74204e" stroke-width="1.2" opacity="0.9"/><path d="M428.49,881.50 L428.97,882.02 L429.23,882.57 L429.19,883.10 L428.86,883.59 L428.36,884.03 L427.84,884.44 L427.46,884.86 L427.31,885.32 L427.38,885.85 L427.56,886.43 L427.70,887.04 L427.66,887.58 L427.34,888.01 L426.75,888.28 L426.00,888.43 L425.21,888.51 L424.55,888.62 L424.10,888.84 L423.86,889.20 L423.76,889.69 L423.68,890.22 L423.50,890.67 L423.13,890.95 L422.57,891.02 L421.89,890.90 L421.19,890.71 L420.59,890.57 L420.14,890.60 L419.85,890.87 L419.68,891.34 L419.54,891.91 L419.34,892.44 L419.03,892.80 L418.61,892.92 L418.12,892.82 L417.61,892.62 L417.14,892.46 L416.74,892.49 L416.39,892.77 L416.08,893.28 L415.75,893.92 L415.37,894.54 L414.94,894.98 L414.48,895.17 L414.00,895.11 L413.53,894.89 L413.08,894.65 L412.63,894.54 L412.15,894.63 L411.63,894.92 L411.06,895.32 L410.46,895.69 L409.87,895.90 L409.33,895.87 L408.87,895.60 L408.49,895.15 L408.15,894.65 L407.80,894.21 L407.40,893.91 L406.92,893.76 L406.37,893.70 L405.81,893.65 L405.29,893.49 L404.88,893.17 L404.62,892.68 L404.48,892.07 L404.42,891.42 L404.36,890.81 L404.23,890.30 L403.99,889.90 L403.65,889.59 L403.27,889.29 L402.93,888.96 L402.70,888.56 L402.60,888.08 L402.64,887.54 L402.74,886.99 L402.83,886.47 L402.84,886.01 L402.73,885.60 L402.52,885.23 L402.25,884.87 L401.99,884.50 L401.80,884.09 L401.71,883.67 L401.72,883.23 L401.80,882.78 L401.87,882.35 L401.89,881.92 L401.83,881.50 L401.70,881.07 L401.54,880.63 L401.39,880.17 L401.29,879.71 L401.27,879.26 L401.32,878.81 L401.42,878.36 L401.53,877.93 L401.64,877.48 L401.72,877.03 L401.80,876.57 L401.88,876.11 L402.00,875.65 L402.15,875.20 L402.34,874.77 L402.56,874.35 L402.80,873.95 L403.05,873.54 L403.30,873.14 L403.57,872.75 L403.86,872.37 L404.19,872.03 L404.56,871.72 L404.94,871.44 L405.32,871.16 L405.70,870.87 L406.05,870.56 L406.39,870.22 L406.74,869.88 L407.12,869.57 L407.53,869.33 L407.98,869.16 L408.46,869.06 L408.95,869.00 L409.42,868.93 L409.87,868.80 L410.30,868.60 L410.72,868.34 L411.14,868.07 L411.59,867.84 L412.06,867.71 L412.55,867.72 L413.05,867.86 L413.53,868.06 L414.00,868.26 L414.46,868.37 L414.92,868.37 L415.39,868.26 L415.88,868.12 L416.38,868.02 L416.86,868.06 L417.30,868.27 L417.69,868.65 L418.02,869.11 L418.34,869.58 L418.67,869.95 L419.05,870.17 L419.49,870.24 L419.98,870.25 L420.48,870.27 L420.93,870.41 L421.27,870.73 L421.48,871.20 L421.60,871.77 L421.69,872.34 L421.82,872.81 L422.08,873.13 L422.49,873.30 L423.02,873.38 L423.58,873.46 L424.08,873.62 L424.43,873.92 L424.58,874.36 L424.59,874.88 L424.54,875.42 L424.56,875.89 L424.75,876.26 L425.17,876.53 L425.77,876.74 L426.45,876.97 L427.05,877.26 L427.46,877.64 L427.62,878.11 L427.54,878.62 L427.35,879.15 L427.19,879.65 L427.21,880.11 L427.46,880.56 L427.93,881.01 L428.49,881.50Z" fill="none" stroke="#74204e" stroke-width="1.2" opacity="0.9"/><path d="M431.91,881.50 L432.29,882.14 L432.46,882.79 L432.40,883.43 L432.15,884.05 L431.82,884.64 L431.49,885.22 L431.23,885.80 L431.06,886.39 L430.93,887.00 L430.78,887.61 L430.53,888.18 L430.15,888.69 L429.66,889.14 L429.13,889.54 L428.62,889.94 L428.19,890.37 L427.86,890.85 L427.59,891.37 L427.30,891.89 L426.93,892.35 L426.41,892.67 L425.74,892.84 L424.97,892.86 L424.20,892.82 L423.50,892.82 L422.95,892.95 L422.55,893.27 L422.28,893.77 L422.04,894.37 L421.78,894.97 L421.41,895.43 L420.92,895.70 L420.34,895.75 L419.72,895.65 L419.10,895.52 L418.54,895.48 L418.05,895.61 L417.60,895.94 L417.17,896.43 L416.73,896.96 L416.24,897.44 L415.71,897.80 L415.15,898.00 L414.58,898.08 L414.00,898.12 L413.42,898.20 L412.82,898.35 L412.21,898.56 L411.57,898.77 L410.93,898.92 L410.30,898.92 L409.70,898.76 L409.13,898.48 L408.59,898.15 L408.04,897.87 L407.45,897.71 L406.80,897.68 L406.08,897.73 L405.35,897.77 L404.66,897.68 L404.08,897.38 L403.65,896.84 L403.38,896.12 L403.22,895.30 L403.08,894.52 L402.87,893.86 L402.53,893.38 L402.04,893.05 L401.46,892.79 L400.86,892.52 L400.36,892.16 L400.03,891.65 L399.89,891.02 L399.90,890.31 L399.99,889.59 L400.04,888.92 L400.00,888.33 L399.83,887.81 L399.56,887.33 L399.26,886.86 L399.02,886.37 L398.87,885.84 L398.82,885.29 L398.82,884.73 L398.81,884.18 L398.71,883.65 L398.50,883.13 L398.21,882.60 L397.92,882.06 L397.72,881.50 L397.69,880.93 L397.85,880.37 L398.15,879.83 L398.49,879.32 L398.75,878.81 L398.84,878.28 L398.72,877.69 L398.44,877.04 L398.11,876.34 L397.86,875.63 L397.82,874.96 L398.04,874.40 L398.50,873.94 L399.09,873.57 L399.71,873.25 L400.23,872.89 L400.58,872.45 L400.78,871.89 L400.87,871.24 L400.96,870.56 L401.14,869.92 L401.45,869.38 L401.90,868.97 L402.45,868.67 L403.03,868.43 L403.59,868.18 L404.10,867.87 L404.55,867.49 L404.98,867.07 L405.44,866.68 L405.96,866.37 L406.53,866.18 L407.14,866.08 L407.75,866.03 L408.33,865.92 L408.87,865.71 L409.37,865.35 L409.86,864.90 L410.37,864.44 L410.93,864.10 L411.54,863.97 L412.17,864.08 L412.80,864.40 L413.42,864.82 L414.00,865.20 L414.56,865.42 L415.13,865.41 L415.71,865.20 L416.34,864.88 L416.98,864.60 L417.62,864.49 L418.21,864.62 L418.73,864.99 L419.18,865.54 L419.59,866.15 L419.98,866.70 L420.41,867.11 L420.89,867.37 L421.43,867.54 L421.98,867.67 L422.52,867.87 L422.99,868.17 L423.39,868.58 L423.72,869.05 L424.05,869.53 L424.40,869.95 L424.82,870.30 L425.29,870.60 L425.78,870.89 L426.23,871.24 L426.57,871.68 L426.79,872.21 L426.91,872.79 L427.01,873.37 L427.17,873.89 L427.50,874.32 L428.01,874.67 L428.67,874.97 L429.40,875.28 L430.06,875.66 L430.53,876.13 L430.75,876.70 L430.74,877.33 L430.58,877.98 L430.42,878.60 L430.38,879.20 L430.54,879.76 L430.91,880.32 L431.41,880.89 L431.91,881.50Z" fill="none" stroke="#74204e" stroke-width="1.2" opacity="0.9"/><path d="M435.77,881.50 L435.64,882.26 L435.38,882.99 L435.05,883.71 L434.73,884.41 L434.48,885.11 L434.34,885.82 L434.30,886.56 L434.32,887.33 L434.35,888.11 L434.31,888.89 L434.15,889.64 L433.81,890.32 L433.29,890.91 L432.63,891.41 L431.87,891.82 L431.09,892.18 L430.34,892.52 L429.69,892.90 L429.15,893.34 L428.72,893.85 L428.35,894.42 L428.00,895.02 L427.60,895.59 L427.13,896.08 L426.56,896.46 L425.88,896.71 L425.14,896.84 L424.38,896.88 L423.63,896.91 L422.94,896.99 L422.33,897.17 L421.79,897.48 L421.32,897.93 L420.86,898.48 L420.40,899.07 L419.89,899.63 L419.33,900.10 L418.72,900.42 L418.06,900.58 L417.37,900.61 L416.68,900.57 L416.00,900.51 L415.33,900.52 L414.67,900.65 L414.00,900.90 L413.31,901.28 L412.59,901.71 L411.83,902.14 L411.05,902.48 L410.27,902.67 L409.50,902.66 L408.77,902.47 L408.09,902.12 L407.44,901.68 L406.82,901.22 L406.20,900.80 L405.55,900.47 L404.86,900.25 L404.11,900.10 L403.33,899.98 L402.55,899.82 L401.82,899.56 L401.16,899.17 L400.63,898.61 L400.22,897.92 L399.92,897.13 L399.70,896.30 L399.51,895.50 L399.28,894.76 L398.97,894.11 L398.58,893.55 L398.09,893.06 L397.56,892.59 L397.03,892.11 L396.57,891.57 L396.23,890.95 L396.04,890.26 L396.00,889.51 L396.07,888.74 L396.20,887.98 L396.30,887.25 L396.31,886.57 L396.20,885.94 L395.94,885.34 L395.57,884.75 L395.13,884.15 L394.72,883.53 L394.39,882.87 L394.21,882.19 L394.20,881.50 L394.35,880.81 L394.61,880.14 L394.92,879.49 L395.19,878.86 L395.37,878.21 L395.42,877.55 L395.34,876.85 L395.19,876.11 L395.01,875.33 L394.89,874.54 L394.88,873.78 L395.04,873.06 L395.37,872.42 L395.85,871.85 L396.42,871.35 L397.03,870.89 L397.59,870.43 L398.08,869.93 L398.46,869.36 L398.75,868.71 L398.99,867.99 L399.24,867.24 L399.54,866.52 L399.94,865.88 L400.46,865.36 L401.09,864.98 L401.82,864.73 L402.58,864.58 L403.35,864.46 L404.07,864.31 L404.73,864.07 L405.33,863.72 L405.88,863.26 L406.41,862.72 L406.96,862.16 L407.55,861.66 L408.20,861.28 L408.90,861.06 L409.65,861.02 L410.41,861.13 L411.17,861.33 L411.90,861.56 L412.62,861.74 L413.31,861.81 L414.00,861.76 L414.70,861.59 L415.41,861.36 L416.14,861.14 L416.88,861.01 L417.61,861.01 L418.31,861.20 L418.97,861.57 L419.57,862.07 L420.12,862.65 L420.65,863.23 L421.18,863.74 L421.73,864.14 L422.33,864.42 L422.99,864.60 L423.68,864.73 L424.39,864.87 L425.07,865.09 L425.67,865.43 L426.18,865.91 L426.57,866.52 L426.88,867.20 L427.12,867.91 L427.36,868.59 L427.66,869.20 L428.04,869.72 L428.55,870.13 L429.15,870.49 L429.83,870.82 L430.51,871.18 L431.14,871.60 L431.66,872.11 L432.03,872.71 L432.26,873.37 L432.38,874.07 L432.45,874.78 L432.54,875.48 L432.71,876.13 L433.00,876.76 L433.42,877.37 L433.95,877.98 L434.51,878.62 L435.04,879.29 L435.46,880.00 L435.71,880.74 L435.77,881.50Z" fill="none" stroke="#74204e" stroke-width="1.2" opacity="0.9"/></g><g filter="url(#edge11)"><circle cx="523.5" cy="883.4" r="44" fill="url(#g25)"/><circle cx="523.5" cy="883.4" r="36" fill="url(#wfade)" filter="url(#w25)" opacity="0.9"/><circle cx="522" cy="881" r="7" fill="#6a1a55" opacity="0.55" filter="url(#cblur)"/><path d="M529.35,881.00 L529.01,881.24 L528.70,881.47 L528.50,881.68 L528.45,881.91 L528.56,882.16 L528.82,882.45 L529.16,882.79 L529.51,883.15 L529.76,883.52 L529.88,883.87 L529.82,884.16 L529.61,884.39 L529.29,884.56 L528.94,884.69 L528.64,884.83 L528.44,885.02 L528.37,885.30 L528.42,885.67 L528.55,886.12 L528.70,886.62 L528.79,887.12 L528.78,887.55 L528.64,887.88 L528.37,888.07 L527.99,888.14 L527.56,888.12 L527.13,888.07 L526.74,888.03 L526.41,888.06 L526.14,888.17 L525.92,888.37 L525.71,888.60 L525.49,888.84 L525.24,889.02 L524.95,889.11 L524.63,889.09 L524.29,888.99 L523.95,888.84 L523.63,888.68 L523.33,888.57 L523.06,888.52 L522.79,888.54 L522.53,888.61 L522.27,888.69 L522.00,888.74 L521.73,888.72 L521.47,888.63 L521.22,888.46 L520.98,888.27 L520.75,888.09 L520.52,887.98 L520.26,887.96 L519.98,888.04 L519.67,888.18 L519.33,888.34 L518.98,888.46 L518.67,888.49 L518.40,888.38 L518.21,888.13 L518.08,887.79 L518.00,887.40 L517.93,887.03 L517.83,886.73 L517.66,886.56 L517.39,886.50 L517.02,886.53 L516.59,886.60 L516.14,886.66 L515.75,886.63 L515.45,886.49 L515.30,886.24 L515.28,885.88 L515.38,885.47 L515.51,885.05 L515.62,884.68 L515.63,884.39 L515.49,884.17 L515.20,884.03 L514.78,883.92 L514.30,883.80 L513.83,883.65 L513.45,883.45 L513.22,883.19 L513.15,882.88 L513.22,882.55 L513.38,882.21 L513.56,881.89 L513.70,881.58 L513.75,881.29 L513.69,881.00 L513.54,880.70 L513.34,880.39 L513.17,880.07 L513.06,879.74 L513.07,879.43 L513.19,879.13 L513.42,878.86 L513.71,878.62 L514.00,878.40 L514.27,878.19 L514.49,877.97 L514.65,877.73 L514.78,877.48 L514.91,877.23 L515.08,877.00 L515.31,876.82 L515.61,876.69 L515.95,876.61 L516.31,876.56 L516.65,876.51 L516.92,876.43 L517.11,876.28 L517.22,876.05 L517.28,875.75 L517.32,875.42 L517.38,875.09 L517.51,874.82 L517.71,874.64 L517.99,874.58 L518.31,874.61 L518.65,874.70 L518.96,874.77 L519.22,874.76 L519.42,874.61 L519.57,874.32 L519.69,873.90 L519.82,873.39 L519.98,872.89 L520.19,872.47 L520.45,872.21 L520.75,872.14 L521.08,872.25 L521.41,872.50 L521.71,872.81 L522.00,873.08 L522.27,873.25 L522.54,873.27 L522.83,873.13 L523.14,872.89 L523.48,872.60 L523.84,872.35 L524.19,872.22 L524.51,872.24 L524.79,872.42 L525.01,872.74 L525.18,873.13 L525.33,873.53 L525.48,873.86 L525.67,874.10 L525.91,874.23 L526.21,874.27 L526.54,874.26 L526.89,874.26 L527.22,874.31 L527.50,874.44 L527.71,874.66 L527.86,874.93 L527.97,875.24 L528.06,875.54 L528.17,875.82 L528.33,876.05 L528.53,876.25 L528.76,876.44 L528.99,876.63 L529.18,876.85 L529.30,877.12 L529.33,877.43 L529.28,877.76 L529.18,878.10 L529.08,878.42 L529.03,878.72 L529.05,878.98 L529.17,879.21 L529.36,879.44 L529.57,879.66 L529.76,879.91 L529.85,880.18 L529.81,880.45 L529.63,880.73 L529.35,881.00Z" fill="none" stroke="#f274ac" stroke-width="1.3" opacity="0.85"/><path d="M535.20,881.00 L534.99,881.45 L534.78,881.89 L534.61,882.33 L534.53,882.76 L534.57,883.22 L534.71,883.70 L534.94,884.23 L535.21,884.79 L535.47,885.38 L535.67,885.97 L535.75,886.56 L535.70,887.10 L535.51,887.59 L535.20,888.02 L534.80,888.39 L534.36,888.72 L533.91,889.03 L533.49,889.35 L533.12,889.69 L532.81,890.07 L532.54,890.49 L532.29,890.94 L532.04,891.40 L531.75,891.83 L531.40,892.20 L530.98,892.50 L530.49,892.69 L529.95,892.79 L529.37,892.80 L528.79,892.75 L528.21,892.68 L527.67,892.63 L527.17,892.61 L526.71,892.66 L526.28,892.77 L525.88,892.95 L525.49,893.17 L525.09,893.39 L524.68,893.60 L524.25,893.77 L523.81,893.88 L523.36,893.91 L522.90,893.89 L522.45,893.82 L522.00,893.73 L521.56,893.65 L521.12,893.58 L520.68,893.55 L520.23,893.56 L519.78,893.60 L519.31,893.65 L518.83,893.71 L518.35,893.74 L517.86,893.74 L517.38,893.69 L516.92,893.58 L516.47,893.42 L516.04,893.21 L515.64,892.97 L515.24,892.70 L514.86,892.42 L514.49,892.13 L514.12,891.84 L513.75,891.56 L513.38,891.27 L513.00,890.99 L512.63,890.70 L512.25,890.41 L511.88,890.12 L511.50,889.81 L511.14,889.49 L510.78,889.15 L510.44,888.80 L510.12,888.43 L509.82,888.03 L509.55,887.62 L509.31,887.19 L509.10,886.74 L508.92,886.28 L508.76,885.82 L508.61,885.35 L508.46,884.88 L508.31,884.41 L508.16,883.94 L507.99,883.47 L507.83,882.99 L507.69,882.50 L507.59,882.01 L507.55,881.50 L507.58,881.00 L507.69,880.50 L507.89,880.01 L508.16,879.55 L508.48,879.10 L508.82,878.68 L509.16,878.27 L509.46,877.87 L509.72,877.48 L509.92,877.08 L510.08,876.66 L510.20,876.23 L510.32,875.80 L510.45,875.37 L510.64,874.96 L510.88,874.58 L511.19,874.25 L511.56,873.96 L511.97,873.71 L512.38,873.49 L512.78,873.26 L513.12,873.00 L513.40,872.70 L513.62,872.32 L513.77,871.86 L513.90,871.34 L514.02,870.78 L514.16,870.21 L514.36,869.67 L514.63,869.21 L514.98,868.83 L515.39,868.57 L515.86,868.40 L516.35,868.31 L516.85,868.26 L517.34,868.20 L517.81,868.10 L518.25,867.92 L518.67,867.66 L519.09,867.33 L519.52,866.95 L519.97,866.59 L520.45,866.28 L520.96,866.08 L521.48,866.02 L522.00,866.11 L522.51,866.35 L523.00,866.70 L523.46,867.10 L523.90,867.50 L524.32,867.85 L524.74,868.10 L525.18,868.23 L525.66,868.25 L526.16,868.19 L526.70,868.10 L527.24,868.03 L527.77,868.03 L528.27,868.15 L528.70,868.40 L529.06,868.78 L529.34,869.26 L529.56,869.79 L529.76,870.33 L529.95,870.82 L530.19,871.24 L530.49,871.57 L530.87,871.81 L531.33,871.99 L531.84,872.14 L532.36,872.30 L532.85,872.52 L533.26,872.82 L533.56,873.21 L533.71,873.68 L533.74,874.22 L533.66,874.80 L533.53,875.38 L533.40,875.93 L533.32,876.43 L533.33,876.88 L533.46,877.28 L533.71,877.64 L534.05,878.00 L534.43,878.36 L534.81,878.74 L535.12,879.16 L535.33,879.60 L535.41,880.06 L535.36,880.53 L535.20,881.00Z" fill="none" stroke="#f274ac" stroke-width="1.3" opacity="0.85"/></g><g filter="url(#edge12)"><circle cx="630.1" cy="883.4" r="26" fill="url(#g26)"/></g><rect x="107.10" y="819.70" width="34.90" height="2.00" fill="#fff"/><text x="124.20" y="817.60" font-size="7.2" font-weight="bold" text-anchor="middle" fill="#fff">5mm</text><path d="M30.4 751.2 A24.7 24.7 0 0 0 30.4 800.6 A31.9 31.9 0 0 1 30.4 751.2 Z" fill="#000"/><g fill="#b80000"><path d="M13.1 867 Q13.3 862.8 17.15 862.8 Q21 862.8 21.2 867 Z"/><rect x="9.9" y="868.1" width="14.8" height="3.9" rx="1.95"/><rect x="9.9" y="873.9" width="14.8" height="3.9" rx="1.95"/><path d="M9.9 879.2 L24.7 879.2 L29.6 887.6 A14.4 14.4 0 1 1 5 887.6 Z"/></g>
</svg></body></html>
